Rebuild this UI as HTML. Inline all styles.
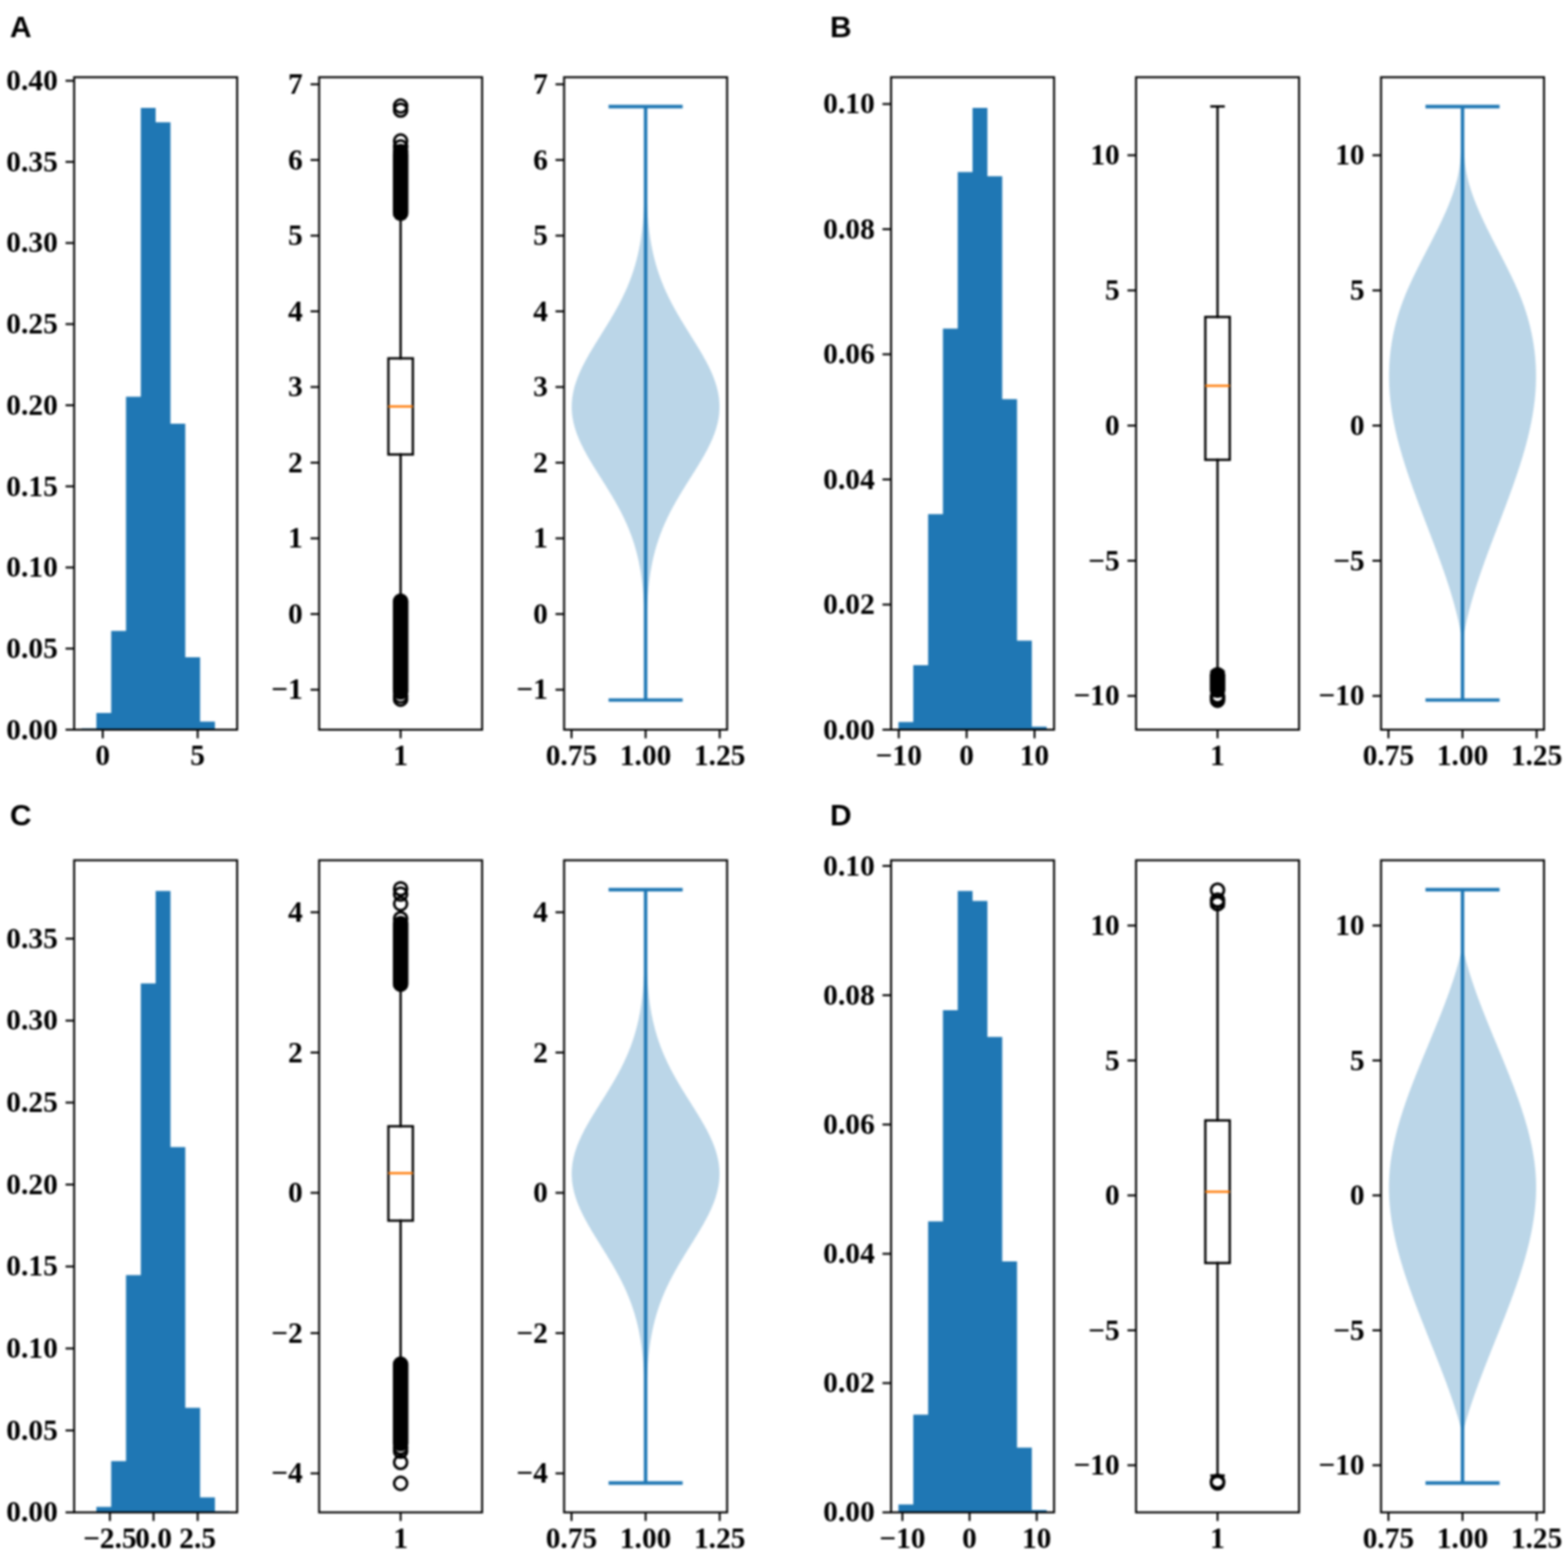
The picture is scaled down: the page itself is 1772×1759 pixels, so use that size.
<!DOCTYPE html>
<html><head><meta charset="utf-8"><title>Distribution plots</title>
<style>
html,body{margin:0;padding:0;background:#fff;}
body{width:1772px;height:1759px;overflow:hidden;}
svg{display:block;filter:blur(0.8px);}

.sp{fill:none;stroke:#000;stroke-width:2.22;stroke-linejoin:miter;stroke-linecap:square}
.tk{stroke:#000;stroke-width:2.22}
.bx{stroke:#000;stroke-width:2.6;stroke-linecap:square}
.bxr{fill:none;stroke:#000;stroke-width:2.6;stroke-linejoin:miter}
.md{stroke:#ff7f0e;stroke-width:2.6}
.fl{fill:none;stroke:#000;stroke-width:3.0}
.vl{stroke:#1f77b4;stroke-width:3.9}

</style></head>
<body>
<svg width="1772" height="1759" viewBox="0 0 1772 1759">
<rect x="0" y="0" width="1772" height="1759" fill="#fff"/>
<path d="M92.17,824.9 L92.17,823.4 L108.92,823.4 L108.92,805.9 L125.66,805.9 L125.66,713.3 L142.41,713.3 L142.41,448.4 L159.15,448.4 L159.15,122.1 L175.9,122.1 L175.9,138.3 L192.65,138.3 L192.65,479 L209.39,479 L209.39,742.9 L226.14,742.9 L226.14,815.7 L242.88,815.7 L242.88,824.4 L259.63,824.4 L259.63,824.9 Z" fill="#1f77b4"/>
<line x1="74.08" y1="824.9" x2="83.8" y2="824.9" class="tk"/>
<text x="65.38" y="835.6" text-anchor="end" font-size="33.3" font-family="'Liberation Serif', 'Times New Roman', serif" font-weight="bold">0.00</text>
<line x1="74.08" y1="733.2" x2="83.8" y2="733.2" class="tk"/>
<text x="65.38" y="743.9" text-anchor="end" font-size="33.3" font-family="'Liberation Serif', 'Times New Roman', serif" font-weight="bold">0.05</text>
<line x1="74.08" y1="641.5" x2="83.8" y2="641.5" class="tk"/>
<text x="65.38" y="652.2" text-anchor="end" font-size="33.3" font-family="'Liberation Serif', 'Times New Roman', serif" font-weight="bold">0.10</text>
<line x1="74.08" y1="549.8" x2="83.8" y2="549.8" class="tk"/>
<text x="65.38" y="560.5" text-anchor="end" font-size="33.3" font-family="'Liberation Serif', 'Times New Roman', serif" font-weight="bold">0.15</text>
<line x1="74.08" y1="458.1" x2="83.8" y2="458.1" class="tk"/>
<text x="65.38" y="468.8" text-anchor="end" font-size="33.3" font-family="'Liberation Serif', 'Times New Roman', serif" font-weight="bold">0.20</text>
<line x1="74.08" y1="366.4" x2="83.8" y2="366.4" class="tk"/>
<text x="65.38" y="377.1" text-anchor="end" font-size="33.3" font-family="'Liberation Serif', 'Times New Roman', serif" font-weight="bold">0.25</text>
<line x1="74.08" y1="274.7" x2="83.8" y2="274.7" class="tk"/>
<text x="65.38" y="285.4" text-anchor="end" font-size="33.3" font-family="'Liberation Serif', 'Times New Roman', serif" font-weight="bold">0.30</text>
<line x1="74.08" y1="183" x2="83.8" y2="183" class="tk"/>
<text x="65.38" y="193.7" text-anchor="end" font-size="33.3" font-family="'Liberation Serif', 'Times New Roman', serif" font-weight="bold">0.35</text>
<line x1="74.08" y1="91.3" x2="83.8" y2="91.3" class="tk"/>
<text x="65.38" y="102" text-anchor="end" font-size="33.3" font-family="'Liberation Serif', 'Times New Roman', serif" font-weight="bold">0.40</text>
<line x1="116.1" y1="824.9" x2="116.1" y2="834.62" class="tk"/>
<text x="116.1" y="864.7" text-anchor="middle" font-size="33.3" font-family="'Liberation Serif', 'Times New Roman', serif" font-weight="bold">0</text>
<line x1="223.4" y1="824.9" x2="223.4" y2="834.62" class="tk"/>
<text x="223.4" y="864.7" text-anchor="middle" font-size="33.3" font-family="'Liberation Serif', 'Times New Roman', serif" font-weight="bold">5</text>
<rect x="83.8" y="87.3" width="184.2" height="737.6" class="sp"/>
<line x1="350.93" y1="779.7" x2="360.65" y2="779.7" class="tk"/>
<text x="342.23" y="790.4" text-anchor="end" font-size="33.3" font-family="'Liberation Serif', 'Times New Roman', serif" font-weight="bold">−1</text>
<line x1="350.93" y1="694.15" x2="360.65" y2="694.15" class="tk"/>
<text x="342.23" y="704.85" text-anchor="end" font-size="33.3" font-family="'Liberation Serif', 'Times New Roman', serif" font-weight="bold">0</text>
<line x1="350.93" y1="608.6" x2="360.65" y2="608.6" class="tk"/>
<text x="342.23" y="619.3" text-anchor="end" font-size="33.3" font-family="'Liberation Serif', 'Times New Roman', serif" font-weight="bold">1</text>
<line x1="350.93" y1="523.05" x2="360.65" y2="523.05" class="tk"/>
<text x="342.23" y="533.75" text-anchor="end" font-size="33.3" font-family="'Liberation Serif', 'Times New Roman', serif" font-weight="bold">2</text>
<line x1="350.93" y1="437.5" x2="360.65" y2="437.5" class="tk"/>
<text x="342.23" y="448.2" text-anchor="end" font-size="33.3" font-family="'Liberation Serif', 'Times New Roman', serif" font-weight="bold">3</text>
<line x1="350.93" y1="351.95" x2="360.65" y2="351.95" class="tk"/>
<text x="342.23" y="362.65" text-anchor="end" font-size="33.3" font-family="'Liberation Serif', 'Times New Roman', serif" font-weight="bold">4</text>
<line x1="350.93" y1="266.4" x2="360.65" y2="266.4" class="tk"/>
<text x="342.23" y="277.1" text-anchor="end" font-size="33.3" font-family="'Liberation Serif', 'Times New Roman', serif" font-weight="bold">5</text>
<line x1="350.93" y1="180.85" x2="360.65" y2="180.85" class="tk"/>
<text x="342.23" y="191.55" text-anchor="end" font-size="33.3" font-family="'Liberation Serif', 'Times New Roman', serif" font-weight="bold">6</text>
<line x1="350.93" y1="95.3" x2="360.65" y2="95.3" class="tk"/>
<text x="342.23" y="106" text-anchor="end" font-size="33.3" font-family="'Liberation Serif', 'Times New Roman', serif" font-weight="bold">7</text>
<line x1="452.75" y1="824.9" x2="452.75" y2="834.62" class="tk"/>
<text x="452.75" y="864.7" text-anchor="middle" font-size="33.3" font-family="'Liberation Serif', 'Times New Roman', serif" font-weight="bold">1</text>
<line x1="452.75" y1="405.1" x2="452.75" y2="243.5" class="bx"/>
<line x1="452.75" y1="513.8" x2="452.75" y2="677.8" class="bx"/>
<line x1="445.84" y1="243.5" x2="459.66" y2="243.5" class="bx"/>
<line x1="445.84" y1="677.8" x2="459.66" y2="677.8" class="bx"/>
<rect x="438.94" y="405.1" width="27.63" height="108.7" class="bxr"/>
<line x1="438.94" y1="459.5" x2="466.56" y2="459.5" class="md"/>
<rect x="443.95" y="165.7" width="17.6" height="84.1" rx="8.8" fill="#000"/>
<rect x="443.95" y="670.8" width="17.6" height="117.7" rx="8.8" fill="#000"/>
<circle cx="452.75" cy="119.9" r="7.3" class="fl"/>
<circle cx="452.75" cy="124.5" r="7.3" class="fl"/>
<circle cx="452.75" cy="159.4" r="7.3" class="fl"/>
<circle cx="452.75" cy="166" r="7.3" class="fl"/>
<circle cx="452.75" cy="171.2" r="7.3" class="fl"/>
<circle cx="452.75" cy="782.3" r="7.3" class="fl"/>
<circle cx="452.75" cy="786.8" r="7.3" class="fl"/>
<circle cx="452.75" cy="790.4" r="7.3" class="fl"/>
<rect x="360.65" y="87.3" width="184.2" height="737.6" class="sp"/>
<line x1="627.78" y1="779.7" x2="637.5" y2="779.7" class="tk"/>
<text x="619.08" y="790.4" text-anchor="end" font-size="33.3" font-family="'Liberation Serif', 'Times New Roman', serif" font-weight="bold">−1</text>
<line x1="627.78" y1="694.15" x2="637.5" y2="694.15" class="tk"/>
<text x="619.08" y="704.85" text-anchor="end" font-size="33.3" font-family="'Liberation Serif', 'Times New Roman', serif" font-weight="bold">0</text>
<line x1="627.78" y1="608.6" x2="637.5" y2="608.6" class="tk"/>
<text x="619.08" y="619.3" text-anchor="end" font-size="33.3" font-family="'Liberation Serif', 'Times New Roman', serif" font-weight="bold">1</text>
<line x1="627.78" y1="523.05" x2="637.5" y2="523.05" class="tk"/>
<text x="619.08" y="533.75" text-anchor="end" font-size="33.3" font-family="'Liberation Serif', 'Times New Roman', serif" font-weight="bold">2</text>
<line x1="627.78" y1="437.5" x2="637.5" y2="437.5" class="tk"/>
<text x="619.08" y="448.2" text-anchor="end" font-size="33.3" font-family="'Liberation Serif', 'Times New Roman', serif" font-weight="bold">3</text>
<line x1="627.78" y1="351.95" x2="637.5" y2="351.95" class="tk"/>
<text x="619.08" y="362.65" text-anchor="end" font-size="33.3" font-family="'Liberation Serif', 'Times New Roman', serif" font-weight="bold">4</text>
<line x1="627.78" y1="266.4" x2="637.5" y2="266.4" class="tk"/>
<text x="619.08" y="277.1" text-anchor="end" font-size="33.3" font-family="'Liberation Serif', 'Times New Roman', serif" font-weight="bold">5</text>
<line x1="627.78" y1="180.85" x2="637.5" y2="180.85" class="tk"/>
<text x="619.08" y="191.55" text-anchor="end" font-size="33.3" font-family="'Liberation Serif', 'Times New Roman', serif" font-weight="bold">6</text>
<line x1="627.78" y1="95.3" x2="637.5" y2="95.3" class="tk"/>
<text x="619.08" y="106" text-anchor="end" font-size="33.3" font-family="'Liberation Serif', 'Times New Roman', serif" font-weight="bold">7</text>
<line x1="645.87" y1="824.9" x2="645.87" y2="834.62" class="tk"/>
<text x="645.87" y="864.7" text-anchor="middle" font-size="33.3" font-family="'Liberation Serif', 'Times New Roman', serif" font-weight="bold">0.75</text>
<line x1="729.6" y1="824.9" x2="729.6" y2="834.62" class="tk"/>
<text x="729.6" y="864.7" text-anchor="middle" font-size="33.3" font-family="'Liberation Serif', 'Times New Roman', serif" font-weight="bold">1.00</text>
<line x1="813.33" y1="824.9" x2="813.33" y2="834.62" class="tk"/>
<text x="813.33" y="864.7" text-anchor="middle" font-size="33.3" font-family="'Liberation Serif', 'Times New Roman', serif" font-weight="bold">1.25</text>
<path d="M729.59,120.50 L729.59,122.18 L729.58,123.86 L729.58,125.54 L729.58,127.23 L729.58,128.91 L729.58,130.59 L729.58,132.27 L729.57,133.95 L729.57,135.63 L729.57,137.31 L729.57,139.00 L729.56,140.68 L729.56,142.36 L729.56,144.04 L729.55,145.72 L729.55,147.40 L729.55,149.08 L729.54,150.77 L729.54,152.45 L729.53,154.13 L729.53,155.81 L729.52,157.49 L729.51,159.17 L729.51,160.85 L729.50,162.54 L729.49,164.22 L729.48,165.90 L729.47,167.58 L729.46,169.26 L729.45,170.94 L729.44,172.63 L729.43,174.31 L729.42,175.99 L729.40,177.67 L729.39,179.35 L729.37,181.03 L729.36,182.71 L729.34,184.40 L729.32,186.08 L729.30,187.76 L729.28,189.44 L729.26,191.12 L729.23,192.80 L729.21,194.48 L729.18,196.17 L729.15,197.85 L729.12,199.53 L729.08,201.21 L729.05,202.89 L729.01,204.57 L728.97,206.25 L728.93,207.94 L728.89,209.62 L728.84,211.30 L728.79,212.98 L728.74,214.66 L728.68,216.34 L728.62,218.02 L728.56,219.71 L728.49,221.39 L728.43,223.07 L728.35,224.75 L728.28,226.43 L728.19,228.11 L728.11,229.79 L728.02,231.48 L727.92,233.16 L727.82,234.84 L727.72,236.52 L727.61,238.20 L727.49,239.88 L727.37,241.56 L727.24,243.25 L727.11,244.93 L726.97,246.61 L726.82,248.29 L726.67,249.97 L726.51,251.65 L726.34,253.33 L726.17,255.02 L725.98,256.70 L725.79,258.38 L725.59,260.06 L725.38,261.74 L725.16,263.42 L724.93,265.11 L724.70,266.79 L724.45,268.47 L724.19,270.15 L723.93,271.83 L723.65,273.51 L723.36,275.19 L723.06,276.88 L722.75,278.56 L722.42,280.24 L722.09,281.92 L721.74,283.60 L721.38,285.28 L721.00,286.96 L720.62,288.65 L720.22,290.33 L719.80,292.01 L719.38,293.69 L718.93,295.37 L718.48,297.05 L718.01,298.73 L717.52,300.42 L717.02,302.10 L716.51,303.78 L715.98,305.46 L715.43,307.14 L714.87,308.82 L714.30,310.50 L713.70,312.19 L713.09,313.87 L712.47,315.55 L711.83,317.23 L711.17,318.91 L710.50,320.59 L709.81,322.27 L709.11,323.96 L708.39,325.64 L707.65,327.32 L706.90,329.00 L706.13,330.68 L705.35,332.36 L704.55,334.04 L703.74,335.73 L702.91,337.41 L702.07,339.09 L701.21,340.77 L700.34,342.45 L699.45,344.13 L698.56,345.81 L697.64,347.50 L696.72,349.18 L695.78,350.86 L694.83,352.54 L693.87,354.22 L692.90,355.90 L691.92,357.58 L690.93,359.27 L689.93,360.95 L688.93,362.63 L687.91,364.31 L686.89,365.99 L685.86,367.67 L684.83,369.36 L683.79,371.04 L682.75,372.72 L681.70,374.40 L680.65,376.08 L679.60,377.76 L678.55,379.44 L677.50,381.13 L676.45,382.81 L675.41,384.49 L674.37,386.17 L673.33,387.85 L672.29,389.53 L671.27,391.21 L670.24,392.90 L669.23,394.58 L668.23,396.26 L667.24,397.94 L666.25,399.62 L665.28,401.30 L664.33,402.98 L663.38,404.67 L662.46,406.35 L661.55,408.03 L660.65,409.71 L659.78,411.39 L658.92,413.07 L658.08,414.75 L657.27,416.44 L656.48,418.12 L655.71,419.80 L654.96,421.48 L654.24,423.16 L653.55,424.84 L652.88,426.52 L652.24,428.21 L651.63,429.89 L651.04,431.57 L650.49,433.25 L649.96,434.93 L649.47,436.61 L649.01,438.29 L648.58,439.98 L648.19,441.66 L647.82,443.34 L647.49,445.02 L647.20,446.70 L646.94,448.38 L646.71,450.06 L646.52,451.75 L646.37,453.43 L646.25,455.11 L646.16,456.79 L646.11,458.47 L646.10,460.15 L646.12,461.84 L646.18,463.52 L646.28,465.20 L646.41,466.88 L646.58,468.56 L646.79,470.24 L647.03,471.92 L647.31,473.61 L647.62,475.29 L647.97,476.97 L648.35,478.65 L648.76,480.33 L649.21,482.01 L649.69,483.69 L650.20,485.38 L650.74,487.06 L651.31,488.74 L651.92,490.42 L652.55,492.10 L653.21,493.78 L653.90,495.46 L654.62,497.15 L655.36,498.83 L656.12,500.51 L656.91,502.19 L657.73,503.87 L658.56,505.55 L659.42,507.23 L660.29,508.92 L661.19,510.60 L662.10,512.28 L663.03,513.96 L663.98,515.64 L664.94,517.32 L665.91,519.00 L666.90,520.69 L667.90,522.37 L668.91,524.05 L669.93,525.73 L670.96,527.41 L672.00,529.09 L673.04,530.77 L674.09,532.46 L675.14,534.14 L676.19,535.82 L677.25,537.50 L678.31,539.18 L679.37,540.86 L680.43,542.54 L681.49,544.23 L682.55,545.91 L683.60,547.59 L684.65,549.27 L685.70,550.95 L686.74,552.63 L687.77,554.32 L688.80,556.00 L689.81,557.68 L690.82,559.36 L691.83,561.04 L692.82,562.72 L693.80,564.40 L694.77,566.09 L695.73,567.77 L696.67,569.45 L697.61,571.13 L698.53,572.81 L699.44,574.49 L700.33,576.17 L701.21,577.86 L702.08,579.54 L702.93,581.22 L703.77,582.90 L704.59,584.58 L705.39,586.26 L706.18,587.94 L706.96,589.63 L707.71,591.31 L708.46,592.99 L709.18,594.67 L709.89,596.35 L710.58,598.03 L711.26,599.71 L711.92,601.40 L712.57,603.08 L713.19,604.76 L713.80,606.44 L714.40,608.12 L714.98,609.80 L715.54,611.48 L716.09,613.17 L716.62,614.85 L717.14,616.53 L717.64,618.21 L718.13,619.89 L718.60,621.57 L719.06,623.25 L719.50,624.94 L719.92,626.62 L720.34,628.30 L720.74,629.98 L721.12,631.66 L721.50,633.34 L721.86,635.02 L722.20,636.71 L722.54,638.39 L722.86,640.07 L723.17,641.75 L723.47,643.43 L723.76,645.11 L724.04,646.79 L724.30,648.48 L724.56,650.16 L724.80,651.84 L725.04,653.52 L725.26,655.20 L725.48,656.88 L725.69,658.57 L725.88,660.25 L726.07,661.93 L726.26,663.61 L726.43,665.29 L726.60,666.97 L726.75,668.65 L726.91,670.34 L727.05,672.02 L727.19,673.70 L727.32,675.38 L727.44,677.06 L727.56,678.74 L727.68,680.42 L727.78,682.11 L727.89,683.79 L727.98,685.47 L728.08,687.15 L728.17,688.83 L728.25,690.51 L728.33,692.19 L728.40,693.88 L728.47,695.56 L728.54,697.24 L728.61,698.92 L728.67,700.60 L728.72,702.28 L728.78,703.96 L728.83,705.65 L728.88,707.33 L728.92,709.01 L728.96,710.69 L729.00,712.37 L729.04,714.05 L729.08,715.73 L729.11,717.42 L729.14,719.10 L729.17,720.78 L729.20,722.46 L729.23,724.14 L729.25,725.82 L729.28,727.50 L729.30,729.19 L729.32,730.87 L729.34,732.55 L729.36,734.23 L729.37,735.91 L729.39,737.59 L729.40,739.27 L729.42,740.96 L729.43,742.64 L729.44,744.32 L729.45,746.00 L729.46,747.68 L729.47,749.36 L729.48,751.05 L729.49,752.73 L729.50,754.41 L729.51,756.09 L729.51,757.77 L729.52,759.45 L729.53,761.13 L729.53,762.82 L729.54,764.50 L729.54,766.18 L729.55,767.86 L729.55,769.54 L729.55,771.22 L729.56,772.90 L729.56,774.59 L729.56,776.27 L729.57,777.95 L729.57,779.63 L729.57,781.31 L729.57,782.99 L729.58,784.67 L729.58,786.36 L729.58,788.04 L729.58,789.72 L729.58,791.40 L729.62,791.40 L729.62,789.72 L729.62,788.04 L729.62,786.36 L729.62,784.67 L729.63,782.99 L729.63,781.31 L729.63,779.63 L729.63,777.95 L729.64,776.27 L729.64,774.59 L729.64,772.90 L729.65,771.22 L729.65,769.54 L729.65,767.86 L729.66,766.18 L729.66,764.50 L729.67,762.82 L729.67,761.13 L729.68,759.45 L729.69,757.77 L729.69,756.09 L729.70,754.41 L729.71,752.73 L729.72,751.05 L729.73,749.36 L729.74,747.68 L729.75,746.00 L729.76,744.32 L729.77,742.64 L729.78,740.96 L729.80,739.27 L729.81,737.59 L729.83,735.91 L729.84,734.23 L729.86,732.55 L729.88,730.87 L729.90,729.19 L729.92,727.50 L729.95,725.82 L729.97,724.14 L730.00,722.46 L730.03,720.78 L730.06,719.10 L730.09,717.42 L730.12,715.73 L730.16,714.05 L730.20,712.37 L730.24,710.69 L730.28,709.01 L730.32,707.33 L730.37,705.65 L730.42,703.96 L730.48,702.28 L730.53,700.60 L730.59,698.92 L730.66,697.24 L730.73,695.56 L730.80,693.88 L730.87,692.19 L730.95,690.51 L731.03,688.83 L731.12,687.15 L731.22,685.47 L731.31,683.79 L731.42,682.11 L731.52,680.42 L731.64,678.74 L731.76,677.06 L731.88,675.38 L732.01,673.70 L732.15,672.02 L732.29,670.34 L732.45,668.65 L732.60,666.97 L732.77,665.29 L732.94,663.61 L733.13,661.93 L733.32,660.25 L733.51,658.57 L733.72,656.88 L733.94,655.20 L734.16,653.52 L734.40,651.84 L734.64,650.16 L734.90,648.48 L735.16,646.79 L735.44,645.11 L735.73,643.43 L736.03,641.75 L736.34,640.07 L736.66,638.39 L737.00,636.71 L737.34,635.02 L737.70,633.34 L738.08,631.66 L738.46,629.98 L738.86,628.30 L739.28,626.62 L739.70,624.94 L740.14,623.25 L740.60,621.57 L741.07,619.89 L741.56,618.21 L742.06,616.53 L742.58,614.85 L743.11,613.17 L743.66,611.48 L744.22,609.80 L744.80,608.12 L745.40,606.44 L746.01,604.76 L746.63,603.08 L747.28,601.40 L747.94,599.71 L748.62,598.03 L749.31,596.35 L750.02,594.67 L750.74,592.99 L751.49,591.31 L752.24,589.63 L753.02,587.94 L753.81,586.26 L754.61,584.58 L755.43,582.90 L756.27,581.22 L757.12,579.54 L757.99,577.86 L758.87,576.17 L759.76,574.49 L760.67,572.81 L761.59,571.13 L762.53,569.45 L763.47,567.77 L764.43,566.09 L765.40,564.40 L766.38,562.72 L767.37,561.04 L768.38,559.36 L769.39,557.68 L770.40,556.00 L771.43,554.32 L772.46,552.63 L773.50,550.95 L774.55,549.27 L775.60,547.59 L776.65,545.91 L777.71,544.23 L778.77,542.54 L779.83,540.86 L780.89,539.18 L781.95,537.50 L783.01,535.82 L784.06,534.14 L785.11,532.46 L786.16,530.77 L787.20,529.09 L788.24,527.41 L789.27,525.73 L790.29,524.05 L791.30,522.37 L792.30,520.69 L793.29,519.00 L794.26,517.32 L795.22,515.64 L796.17,513.96 L797.10,512.28 L798.01,510.60 L798.91,508.92 L799.78,507.23 L800.64,505.55 L801.47,503.87 L802.29,502.19 L803.08,500.51 L803.84,498.83 L804.58,497.15 L805.30,495.46 L805.99,493.78 L806.65,492.10 L807.28,490.42 L807.89,488.74 L808.46,487.06 L809.00,485.38 L809.51,483.69 L809.99,482.01 L810.44,480.33 L810.85,478.65 L811.23,476.97 L811.58,475.29 L811.89,473.61 L812.17,471.92 L812.41,470.24 L812.62,468.56 L812.79,466.88 L812.92,465.20 L813.02,463.52 L813.08,461.84 L813.10,460.15 L813.09,458.47 L813.04,456.79 L812.95,455.11 L812.83,453.43 L812.68,451.75 L812.49,450.06 L812.26,448.38 L812.00,446.70 L811.71,445.02 L811.38,443.34 L811.01,441.66 L810.62,439.98 L810.19,438.29 L809.73,436.61 L809.24,434.93 L808.71,433.25 L808.16,431.57 L807.57,429.89 L806.96,428.21 L806.32,426.52 L805.65,424.84 L804.96,423.16 L804.24,421.48 L803.49,419.80 L802.72,418.12 L801.93,416.44 L801.12,414.75 L800.28,413.07 L799.42,411.39 L798.55,409.71 L797.65,408.03 L796.74,406.35 L795.82,404.67 L794.87,402.98 L793.92,401.30 L792.95,399.62 L791.96,397.94 L790.97,396.26 L789.97,394.58 L788.96,392.90 L787.93,391.21 L786.91,389.53 L785.87,387.85 L784.83,386.17 L783.79,384.49 L782.75,382.81 L781.70,381.13 L780.65,379.44 L779.60,377.76 L778.55,376.08 L777.50,374.40 L776.45,372.72 L775.41,371.04 L774.37,369.36 L773.34,367.67 L772.31,365.99 L771.29,364.31 L770.27,362.63 L769.27,360.95 L768.27,359.27 L767.28,357.58 L766.30,355.90 L765.33,354.22 L764.37,352.54 L763.42,350.86 L762.48,349.18 L761.56,347.50 L760.64,345.81 L759.75,344.13 L758.86,342.45 L757.99,340.77 L757.13,339.09 L756.29,337.41 L755.46,335.73 L754.65,334.04 L753.85,332.36 L753.07,330.68 L752.30,329.00 L751.55,327.32 L750.81,325.64 L750.09,323.96 L749.39,322.27 L748.70,320.59 L748.03,318.91 L747.37,317.23 L746.73,315.55 L746.11,313.87 L745.50,312.19 L744.90,310.50 L744.33,308.82 L743.77,307.14 L743.22,305.46 L742.69,303.78 L742.18,302.10 L741.68,300.42 L741.19,298.73 L740.72,297.05 L740.27,295.37 L739.82,293.69 L739.40,292.01 L738.98,290.33 L738.58,288.65 L738.20,286.96 L737.82,285.28 L737.46,283.60 L737.11,281.92 L736.78,280.24 L736.45,278.56 L736.14,276.88 L735.84,275.19 L735.55,273.51 L735.27,271.83 L735.01,270.15 L734.75,268.47 L734.50,266.79 L734.27,265.11 L734.04,263.42 L733.82,261.74 L733.61,260.06 L733.41,258.38 L733.22,256.70 L733.03,255.02 L732.86,253.33 L732.69,251.65 L732.53,249.97 L732.38,248.29 L732.23,246.61 L732.09,244.93 L731.96,243.25 L731.83,241.56 L731.71,239.88 L731.59,238.20 L731.48,236.52 L731.38,234.84 L731.28,233.16 L731.18,231.48 L731.09,229.79 L731.01,228.11 L730.92,226.43 L730.85,224.75 L730.77,223.07 L730.71,221.39 L730.64,219.71 L730.58,218.02 L730.52,216.34 L730.46,214.66 L730.41,212.98 L730.36,211.30 L730.31,209.62 L730.27,207.94 L730.23,206.25 L730.19,204.57 L730.15,202.89 L730.12,201.21 L730.08,199.53 L730.05,197.85 L730.02,196.17 L729.99,194.48 L729.97,192.80 L729.94,191.12 L729.92,189.44 L729.90,187.76 L729.88,186.08 L729.86,184.40 L729.84,182.71 L729.83,181.03 L729.81,179.35 L729.80,177.67 L729.78,175.99 L729.77,174.31 L729.76,172.63 L729.75,170.94 L729.74,169.26 L729.73,167.58 L729.72,165.90 L729.71,164.22 L729.70,162.54 L729.69,160.85 L729.69,159.17 L729.68,157.49 L729.67,155.81 L729.67,154.13 L729.66,152.45 L729.66,150.77 L729.65,149.08 L729.65,147.40 L729.65,145.72 L729.64,144.04 L729.64,142.36 L729.64,140.68 L729.63,139.00 L729.63,137.31 L729.63,135.63 L729.63,133.95 L729.62,132.27 L729.62,130.59 L729.62,128.91 L729.62,127.23 L729.62,125.54 L729.62,123.86 L729.61,122.18 L729.61,120.50 Z" fill="#1f77b4" fill-opacity="0.3"/>
<line x1="729.6" y1="120.5" x2="729.6" y2="791.4" class="vl"/>
<line x1="687.74" y1="120.5" x2="771.46" y2="120.5" class="vl"/>
<line x1="687.74" y1="791.4" x2="771.46" y2="791.4" class="vl"/>
<rect x="637.5" y="87.3" width="184.2" height="737.6" class="sp"/>
<path d="M1015.37,824.9 L1015.37,816.25 L1032.12,816.25 L1032.12,752 L1048.86,752 L1048.86,581.25 L1065.61,581.25 L1065.61,371.6 L1082.35,371.6 L1082.35,194.5 L1099.1,194.5 L1099.1,122.1 L1115.85,122.1 L1115.85,199.2 L1132.59,199.2 L1132.59,451.3 L1149.34,451.3 L1149.34,724.25 L1166.08,724.25 L1166.08,821.6 L1182.83,821.6 L1182.83,824.9 Z" fill="#1f77b4"/>
<line x1="997.28" y1="824.9" x2="1007" y2="824.9" class="tk"/>
<text x="988.58" y="835.6" text-anchor="end" font-size="33.3" font-family="'Liberation Serif', 'Times New Roman', serif" font-weight="bold">0.00</text>
<line x1="997.28" y1="683.44" x2="1007" y2="683.44" class="tk"/>
<text x="988.58" y="694.14" text-anchor="end" font-size="33.3" font-family="'Liberation Serif', 'Times New Roman', serif" font-weight="bold">0.02</text>
<line x1="997.28" y1="541.98" x2="1007" y2="541.98" class="tk"/>
<text x="988.58" y="552.68" text-anchor="end" font-size="33.3" font-family="'Liberation Serif', 'Times New Roman', serif" font-weight="bold">0.04</text>
<line x1="997.28" y1="400.52" x2="1007" y2="400.52" class="tk"/>
<text x="988.58" y="411.22" text-anchor="end" font-size="33.3" font-family="'Liberation Serif', 'Times New Roman', serif" font-weight="bold">0.06</text>
<line x1="997.28" y1="259.06" x2="1007" y2="259.06" class="tk"/>
<text x="988.58" y="269.76" text-anchor="end" font-size="33.3" font-family="'Liberation Serif', 'Times New Roman', serif" font-weight="bold">0.08</text>
<line x1="997.28" y1="117.6" x2="1007" y2="117.6" class="tk"/>
<text x="988.58" y="128.3" text-anchor="end" font-size="33.3" font-family="'Liberation Serif', 'Times New Roman', serif" font-weight="bold">0.10</text>
<line x1="1015.7" y1="824.9" x2="1015.7" y2="834.62" class="tk"/>
<text x="1015.7" y="864.7" text-anchor="middle" font-size="33.3" font-family="'Liberation Serif', 'Times New Roman', serif" font-weight="bold">−10</text>
<line x1="1092.4" y1="824.9" x2="1092.4" y2="834.62" class="tk"/>
<text x="1092.4" y="864.7" text-anchor="middle" font-size="33.3" font-family="'Liberation Serif', 'Times New Roman', serif" font-weight="bold">0</text>
<line x1="1169.1" y1="824.9" x2="1169.1" y2="834.62" class="tk"/>
<text x="1169.1" y="864.7" text-anchor="middle" font-size="33.3" font-family="'Liberation Serif', 'Times New Roman', serif" font-weight="bold">10</text>
<rect x="1007" y="87.3" width="184.2" height="737.6" class="sp"/>
<line x1="1274.13" y1="786.7" x2="1283.85" y2="786.7" class="tk"/>
<text x="1265.43" y="797.4" text-anchor="end" font-size="33.3" font-family="'Liberation Serif', 'Times New Roman', serif" font-weight="bold">−10</text>
<line x1="1274.13" y1="633.9" x2="1283.85" y2="633.9" class="tk"/>
<text x="1265.43" y="644.6" text-anchor="end" font-size="33.3" font-family="'Liberation Serif', 'Times New Roman', serif" font-weight="bold">−5</text>
<line x1="1274.13" y1="481.1" x2="1283.85" y2="481.1" class="tk"/>
<text x="1265.43" y="491.8" text-anchor="end" font-size="33.3" font-family="'Liberation Serif', 'Times New Roman', serif" font-weight="bold">0</text>
<line x1="1274.13" y1="328.3" x2="1283.85" y2="328.3" class="tk"/>
<text x="1265.43" y="339" text-anchor="end" font-size="33.3" font-family="'Liberation Serif', 'Times New Roman', serif" font-weight="bold">5</text>
<line x1="1274.13" y1="175.5" x2="1283.85" y2="175.5" class="tk"/>
<text x="1265.43" y="186.2" text-anchor="end" font-size="33.3" font-family="'Liberation Serif', 'Times New Roman', serif" font-weight="bold">10</text>
<line x1="1375.95" y1="824.9" x2="1375.95" y2="834.62" class="tk"/>
<text x="1375.95" y="864.7" text-anchor="middle" font-size="33.3" font-family="'Liberation Serif', 'Times New Roman', serif" font-weight="bold">1</text>
<line x1="1375.95" y1="358.3" x2="1375.95" y2="120.3" class="bx"/>
<line x1="1375.95" y1="519.8" x2="1375.95" y2="759" class="bx"/>
<line x1="1369.04" y1="120.3" x2="1382.86" y2="120.3" class="bx"/>
<line x1="1369.04" y1="759" x2="1382.86" y2="759" class="bx"/>
<rect x="1362.13" y="358.3" width="27.63" height="161.5" class="bxr"/>
<line x1="1362.13" y1="436.1" x2="1389.76" y2="436.1" class="md"/>
<rect x="1367.15" y="753.9" width="17.6" height="35.2" rx="8.8" fill="#000"/>
<circle cx="1375.95" cy="786.7" r="7.3" class="fl"/>
<circle cx="1375.95" cy="789.1" r="7.3" class="fl"/>
<circle cx="1375.95" cy="791.6" r="7.3" class="fl"/>
<rect x="1283.85" y="87.3" width="184.2" height="737.6" class="sp"/>
<line x1="1550.98" y1="786.7" x2="1560.7" y2="786.7" class="tk"/>
<text x="1542.28" y="797.4" text-anchor="end" font-size="33.3" font-family="'Liberation Serif', 'Times New Roman', serif" font-weight="bold">−10</text>
<line x1="1550.98" y1="633.9" x2="1560.7" y2="633.9" class="tk"/>
<text x="1542.28" y="644.6" text-anchor="end" font-size="33.3" font-family="'Liberation Serif', 'Times New Roman', serif" font-weight="bold">−5</text>
<line x1="1550.98" y1="481.1" x2="1560.7" y2="481.1" class="tk"/>
<text x="1542.28" y="491.8" text-anchor="end" font-size="33.3" font-family="'Liberation Serif', 'Times New Roman', serif" font-weight="bold">0</text>
<line x1="1550.98" y1="328.3" x2="1560.7" y2="328.3" class="tk"/>
<text x="1542.28" y="339" text-anchor="end" font-size="33.3" font-family="'Liberation Serif', 'Times New Roman', serif" font-weight="bold">5</text>
<line x1="1550.98" y1="175.5" x2="1560.7" y2="175.5" class="tk"/>
<text x="1542.28" y="186.2" text-anchor="end" font-size="33.3" font-family="'Liberation Serif', 'Times New Roman', serif" font-weight="bold">10</text>
<line x1="1569.07" y1="824.9" x2="1569.07" y2="834.62" class="tk"/>
<text x="1569.07" y="864.7" text-anchor="middle" font-size="33.3" font-family="'Liberation Serif', 'Times New Roman', serif" font-weight="bold">0.75</text>
<line x1="1652.8" y1="824.9" x2="1652.8" y2="834.62" class="tk"/>
<text x="1652.8" y="864.7" text-anchor="middle" font-size="33.3" font-family="'Liberation Serif', 'Times New Roman', serif" font-weight="bold">1.00</text>
<line x1="1736.53" y1="824.9" x2="1736.53" y2="834.62" class="tk"/>
<text x="1736.53" y="864.7" text-anchor="middle" font-size="33.3" font-family="'Liberation Serif', 'Times New Roman', serif" font-weight="bold">1.25</text>
<path d="M1652.53,120.50 L1652.51,122.18 L1652.49,123.86 L1652.47,125.54 L1652.45,127.23 L1652.43,128.91 L1652.41,130.59 L1652.38,132.27 L1652.35,133.95 L1652.33,135.63 L1652.30,137.31 L1652.26,139.00 L1652.23,140.68 L1652.19,142.36 L1652.16,144.04 L1652.12,145.72 L1652.07,147.40 L1652.03,149.08 L1651.98,150.77 L1651.92,152.45 L1651.87,154.13 L1651.81,155.81 L1651.75,157.49 L1651.68,159.17 L1651.61,160.85 L1651.53,162.54 L1651.45,164.22 L1651.37,165.90 L1651.27,167.58 L1651.18,169.26 L1651.07,170.94 L1650.96,172.63 L1650.85,174.31 L1650.72,175.99 L1650.59,177.67 L1650.45,179.35 L1650.30,181.03 L1650.14,182.71 L1649.97,184.40 L1649.78,186.08 L1649.57,187.76 L1649.33,189.44 L1649.07,191.12 L1648.79,192.80 L1648.49,194.48 L1648.16,196.17 L1647.82,197.85 L1647.45,199.53 L1647.07,201.21 L1646.66,202.89 L1646.24,204.57 L1645.80,206.25 L1645.34,207.94 L1644.86,209.62 L1644.36,211.30 L1643.85,212.98 L1643.31,214.66 L1642.77,216.34 L1642.21,218.02 L1641.63,219.71 L1641.03,221.39 L1640.43,223.07 L1639.80,224.75 L1639.17,226.43 L1638.52,228.11 L1637.85,229.79 L1637.18,231.48 L1636.49,233.16 L1635.79,234.84 L1635.08,236.52 L1634.35,238.20 L1633.62,239.88 L1632.88,241.56 L1632.12,243.25 L1631.36,244.93 L1630.59,246.61 L1629.81,248.29 L1629.02,249.97 L1628.22,251.65 L1627.42,253.33 L1626.61,255.02 L1625.79,256.70 L1624.96,258.38 L1624.13,260.06 L1623.30,261.74 L1622.45,263.42 L1621.61,265.11 L1620.76,266.79 L1619.91,268.47 L1619.05,270.15 L1618.19,271.83 L1617.33,273.51 L1616.46,275.19 L1615.59,276.88 L1614.72,278.56 L1613.86,280.24 L1612.99,281.92 L1612.11,283.60 L1611.24,285.28 L1610.37,286.96 L1609.51,288.65 L1608.64,290.33 L1607.77,292.01 L1606.91,293.69 L1606.05,295.37 L1605.19,297.05 L1604.34,298.73 L1603.49,300.42 L1602.64,302.10 L1601.80,303.78 L1600.96,305.46 L1600.13,307.14 L1599.31,308.82 L1598.49,310.50 L1597.67,312.19 L1596.87,313.87 L1596.07,315.55 L1595.28,317.23 L1594.50,318.91 L1593.72,320.59 L1592.96,322.27 L1592.20,323.96 L1591.46,325.64 L1590.72,327.32 L1590.00,329.00 L1589.28,330.68 L1588.58,332.36 L1587.89,334.04 L1587.21,335.73 L1586.55,337.41 L1585.90,339.09 L1585.26,340.77 L1584.63,342.45 L1584.02,344.13 L1583.42,345.81 L1582.84,347.50 L1582.27,349.18 L1581.71,350.86 L1581.16,352.54 L1580.63,354.22 L1580.11,355.90 L1579.61,357.58 L1579.11,359.27 L1578.63,360.95 L1578.17,362.63 L1577.71,364.31 L1577.27,365.99 L1576.84,367.67 L1576.43,369.36 L1576.03,371.04 L1575.64,372.72 L1575.26,374.40 L1574.90,376.08 L1574.55,377.76 L1574.21,379.44 L1573.89,381.13 L1573.57,382.81 L1573.27,384.49 L1572.98,386.17 L1572.71,387.85 L1572.45,389.53 L1572.20,391.21 L1571.96,392.90 L1571.73,394.58 L1571.52,396.26 L1571.32,397.94 L1571.13,399.62 L1570.95,401.30 L1570.79,402.98 L1570.64,404.67 L1570.50,406.35 L1570.37,408.03 L1570.26,409.71 L1570.15,411.39 L1570.06,413.07 L1569.98,414.75 L1569.91,416.44 L1569.86,418.12 L1569.81,419.80 L1569.78,421.48 L1569.76,423.16 L1569.75,424.84 L1569.76,426.52 L1569.77,428.21 L1569.80,429.89 L1569.84,431.57 L1569.89,433.25 L1569.95,434.93 L1570.02,436.61 L1570.10,438.29 L1570.20,439.98 L1570.31,441.66 L1570.42,443.34 L1570.55,445.02 L1570.70,446.70 L1570.85,448.38 L1571.01,450.06 L1571.19,451.75 L1571.37,453.43 L1571.57,455.11 L1571.78,456.79 L1571.99,458.47 L1572.22,460.15 L1572.46,461.84 L1572.71,463.52 L1572.97,465.20 L1573.23,466.88 L1573.51,468.56 L1573.80,470.24 L1574.10,471.92 L1574.40,473.61 L1574.72,475.29 L1575.04,476.97 L1575.38,478.65 L1575.72,480.33 L1576.07,482.01 L1576.43,483.69 L1576.80,485.38 L1577.18,487.06 L1577.56,488.74 L1577.95,490.42 L1578.36,492.10 L1578.76,493.78 L1579.18,495.46 L1579.60,497.15 L1580.04,498.83 L1580.47,500.51 L1580.92,502.19 L1581.37,503.87 L1581.83,505.55 L1582.30,507.23 L1582.77,508.92 L1583.25,510.60 L1583.74,512.28 L1584.23,513.96 L1584.73,515.64 L1585.24,517.32 L1585.75,519.00 L1586.26,520.69 L1586.79,522.37 L1587.31,524.05 L1587.85,525.73 L1588.39,527.41 L1588.93,529.09 L1589.48,530.77 L1590.03,532.46 L1590.59,534.14 L1591.15,535.82 L1591.72,537.50 L1592.29,539.18 L1592.87,540.86 L1593.45,542.54 L1594.03,544.23 L1594.62,545.91 L1595.21,547.59 L1595.80,549.27 L1596.40,550.95 L1597.00,552.63 L1597.61,554.32 L1598.22,556.00 L1598.83,557.68 L1599.44,559.36 L1600.06,561.04 L1600.67,562.72 L1601.30,564.40 L1601.92,566.09 L1602.55,567.77 L1603.17,569.45 L1603.80,571.13 L1604.43,572.81 L1605.07,574.49 L1605.70,576.17 L1606.34,577.86 L1606.97,579.54 L1607.61,581.22 L1608.25,582.90 L1608.89,584.58 L1609.53,586.26 L1610.18,587.94 L1610.82,589.63 L1611.46,591.31 L1612.10,592.99 L1612.75,594.67 L1613.39,596.35 L1614.03,598.03 L1614.67,599.71 L1615.31,601.40 L1615.96,603.08 L1616.60,604.76 L1617.24,606.44 L1617.88,608.12 L1618.51,609.80 L1619.15,611.48 L1619.79,613.17 L1620.42,614.85 L1621.05,616.53 L1621.68,618.21 L1622.31,619.89 L1622.94,621.57 L1623.56,623.25 L1624.19,624.94 L1624.81,626.62 L1625.42,628.30 L1626.04,629.98 L1626.65,631.66 L1627.26,633.34 L1627.87,635.02 L1628.47,636.71 L1629.07,638.39 L1629.67,640.07 L1630.26,641.75 L1630.85,643.43 L1631.44,645.11 L1632.02,646.79 L1632.60,648.48 L1633.17,650.16 L1633.74,651.84 L1634.31,653.52 L1634.87,655.20 L1635.42,656.88 L1635.98,658.57 L1636.52,660.25 L1637.06,661.93 L1637.60,663.61 L1638.13,665.29 L1638.66,666.97 L1639.18,668.65 L1639.69,670.34 L1640.20,672.02 L1640.70,673.70 L1641.20,675.38 L1641.69,677.06 L1642.17,678.74 L1642.65,680.42 L1643.12,682.11 L1643.58,683.79 L1644.04,685.47 L1644.49,687.15 L1644.93,688.83 L1645.37,690.51 L1645.80,692.19 L1646.22,693.88 L1646.63,695.56 L1647.04,697.24 L1647.44,698.92 L1647.83,700.60 L1648.21,702.28 L1648.58,703.96 L1648.95,705.65 L1649.30,707.33 L1649.65,709.01 L1649.99,710.69 L1650.32,712.37 L1650.64,714.05 L1650.95,715.73 L1651.26,717.42 L1651.55,719.10 L1651.83,720.78 L1652.11,722.46 L1652.37,724.14 L1652.55,725.82 L1652.66,727.50 L1652.72,729.19 L1652.75,730.87 L1652.77,732.55 L1652.78,734.23 L1652.79,735.91 L1652.79,737.59 L1652.80,739.27 L1652.80,740.96 L1652.80,742.64 L1652.80,744.32 L1652.80,746.00 L1652.80,747.68 L1652.80,749.36 L1652.80,751.05 L1652.80,752.73 L1652.80,754.41 L1652.80,756.09 L1652.80,757.77 L1652.80,759.45 L1652.80,761.13 L1652.80,762.82 L1652.80,764.50 L1652.80,766.18 L1652.80,767.86 L1652.80,769.54 L1652.80,771.22 L1652.80,772.90 L1652.80,774.59 L1652.80,776.27 L1652.80,777.95 L1652.80,779.63 L1652.80,781.31 L1652.80,782.99 L1652.80,784.67 L1652.80,786.36 L1652.80,788.04 L1652.80,789.72 L1652.80,791.40 L1652.80,791.40 L1652.80,789.72 L1652.80,788.04 L1652.80,786.36 L1652.80,784.67 L1652.80,782.99 L1652.80,781.31 L1652.80,779.63 L1652.80,777.95 L1652.80,776.27 L1652.80,774.59 L1652.80,772.90 L1652.80,771.22 L1652.80,769.54 L1652.80,767.86 L1652.80,766.18 L1652.80,764.50 L1652.80,762.82 L1652.80,761.13 L1652.80,759.45 L1652.80,757.77 L1652.80,756.09 L1652.80,754.41 L1652.80,752.73 L1652.80,751.05 L1652.80,749.36 L1652.80,747.68 L1652.80,746.00 L1652.80,744.32 L1652.80,742.64 L1652.80,740.96 L1652.80,739.27 L1652.81,737.59 L1652.81,735.91 L1652.82,734.23 L1652.83,732.55 L1652.85,730.87 L1652.88,729.19 L1652.94,727.50 L1653.05,725.82 L1653.23,724.14 L1653.49,722.46 L1653.77,720.78 L1654.05,719.10 L1654.34,717.42 L1654.65,715.73 L1654.96,714.05 L1655.28,712.37 L1655.61,710.69 L1655.95,709.01 L1656.30,707.33 L1656.65,705.65 L1657.02,703.96 L1657.39,702.28 L1657.77,700.60 L1658.16,698.92 L1658.56,697.24 L1658.97,695.56 L1659.38,693.88 L1659.80,692.19 L1660.23,690.51 L1660.67,688.83 L1661.11,687.15 L1661.56,685.47 L1662.02,683.79 L1662.48,682.11 L1662.95,680.42 L1663.43,678.74 L1663.91,677.06 L1664.40,675.38 L1664.90,673.70 L1665.40,672.02 L1665.91,670.34 L1666.42,668.65 L1666.94,666.97 L1667.47,665.29 L1668.00,663.61 L1668.54,661.93 L1669.08,660.25 L1669.62,658.57 L1670.18,656.88 L1670.73,655.20 L1671.29,653.52 L1671.86,651.84 L1672.43,650.16 L1673.00,648.48 L1673.58,646.79 L1674.16,645.11 L1674.75,643.43 L1675.34,641.75 L1675.93,640.07 L1676.53,638.39 L1677.13,636.71 L1677.73,635.02 L1678.34,633.34 L1678.95,631.66 L1679.56,629.98 L1680.18,628.30 L1680.79,626.62 L1681.41,624.94 L1682.04,623.25 L1682.66,621.57 L1683.29,619.89 L1683.92,618.21 L1684.55,616.53 L1685.18,614.85 L1685.81,613.17 L1686.45,611.48 L1687.09,609.80 L1687.72,608.12 L1688.36,606.44 L1689.00,604.76 L1689.64,603.08 L1690.29,601.40 L1690.93,599.71 L1691.57,598.03 L1692.21,596.35 L1692.85,594.67 L1693.50,592.99 L1694.14,591.31 L1694.78,589.63 L1695.42,587.94 L1696.07,586.26 L1696.71,584.58 L1697.35,582.90 L1697.99,581.22 L1698.63,579.54 L1699.26,577.86 L1699.90,576.17 L1700.53,574.49 L1701.17,572.81 L1701.80,571.13 L1702.43,569.45 L1703.05,567.77 L1703.68,566.09 L1704.30,564.40 L1704.93,562.72 L1705.54,561.04 L1706.16,559.36 L1706.77,557.68 L1707.38,556.00 L1707.99,554.32 L1708.60,552.63 L1709.20,550.95 L1709.80,549.27 L1710.39,547.59 L1710.98,545.91 L1711.57,544.23 L1712.15,542.54 L1712.73,540.86 L1713.31,539.18 L1713.88,537.50 L1714.45,535.82 L1715.01,534.14 L1715.57,532.46 L1716.12,530.77 L1716.67,529.09 L1717.21,527.41 L1717.75,525.73 L1718.29,524.05 L1718.81,522.37 L1719.34,520.69 L1719.85,519.00 L1720.36,517.32 L1720.87,515.64 L1721.37,513.96 L1721.86,512.28 L1722.35,510.60 L1722.83,508.92 L1723.30,507.23 L1723.77,505.55 L1724.23,503.87 L1724.68,502.19 L1725.13,500.51 L1725.56,498.83 L1726.00,497.15 L1726.42,495.46 L1726.84,493.78 L1727.24,492.10 L1727.65,490.42 L1728.04,488.74 L1728.42,487.06 L1728.80,485.38 L1729.17,483.69 L1729.53,482.01 L1729.88,480.33 L1730.22,478.65 L1730.56,476.97 L1730.88,475.29 L1731.20,473.61 L1731.50,471.92 L1731.80,470.24 L1732.09,468.56 L1732.37,466.88 L1732.63,465.20 L1732.89,463.52 L1733.14,461.84 L1733.38,460.15 L1733.61,458.47 L1733.82,456.79 L1734.03,455.11 L1734.23,453.43 L1734.41,451.75 L1734.59,450.06 L1734.75,448.38 L1734.90,446.70 L1735.05,445.02 L1735.18,443.34 L1735.29,441.66 L1735.40,439.98 L1735.50,438.29 L1735.58,436.61 L1735.65,434.93 L1735.71,433.25 L1735.76,431.57 L1735.80,429.89 L1735.83,428.21 L1735.84,426.52 L1735.85,424.84 L1735.84,423.16 L1735.82,421.48 L1735.79,419.80 L1735.74,418.12 L1735.69,416.44 L1735.62,414.75 L1735.54,413.07 L1735.45,411.39 L1735.34,409.71 L1735.23,408.03 L1735.10,406.35 L1734.96,404.67 L1734.81,402.98 L1734.65,401.30 L1734.47,399.62 L1734.28,397.94 L1734.08,396.26 L1733.87,394.58 L1733.64,392.90 L1733.40,391.21 L1733.15,389.53 L1732.89,387.85 L1732.62,386.17 L1732.33,384.49 L1732.03,382.81 L1731.71,381.13 L1731.39,379.44 L1731.05,377.76 L1730.70,376.08 L1730.34,374.40 L1729.96,372.72 L1729.57,371.04 L1729.17,369.36 L1728.76,367.67 L1728.33,365.99 L1727.89,364.31 L1727.43,362.63 L1726.97,360.95 L1726.49,359.27 L1725.99,357.58 L1725.49,355.90 L1724.97,354.22 L1724.44,352.54 L1723.89,350.86 L1723.33,349.18 L1722.76,347.50 L1722.18,345.81 L1721.58,344.13 L1720.97,342.45 L1720.34,340.77 L1719.70,339.09 L1719.05,337.41 L1718.39,335.73 L1717.71,334.04 L1717.02,332.36 L1716.32,330.68 L1715.60,329.00 L1714.88,327.32 L1714.14,325.64 L1713.40,323.96 L1712.64,322.27 L1711.88,320.59 L1711.10,318.91 L1710.32,317.23 L1709.53,315.55 L1708.73,313.87 L1707.93,312.19 L1707.11,310.50 L1706.29,308.82 L1705.47,307.14 L1704.64,305.46 L1703.80,303.78 L1702.96,302.10 L1702.11,300.42 L1701.26,298.73 L1700.41,297.05 L1699.55,295.37 L1698.69,293.69 L1697.83,292.01 L1696.96,290.33 L1696.09,288.65 L1695.23,286.96 L1694.36,285.28 L1693.49,283.60 L1692.61,281.92 L1691.74,280.24 L1690.88,278.56 L1690.01,276.88 L1689.14,275.19 L1688.27,273.51 L1687.41,271.83 L1686.55,270.15 L1685.69,268.47 L1684.84,266.79 L1683.99,265.11 L1683.15,263.42 L1682.30,261.74 L1681.47,260.06 L1680.64,258.38 L1679.81,256.70 L1678.99,255.02 L1678.18,253.33 L1677.38,251.65 L1676.58,249.97 L1675.79,248.29 L1675.01,246.61 L1674.24,244.93 L1673.48,243.25 L1672.72,241.56 L1671.98,239.88 L1671.25,238.20 L1670.52,236.52 L1669.81,234.84 L1669.11,233.16 L1668.42,231.48 L1667.75,229.79 L1667.08,228.11 L1666.43,226.43 L1665.80,224.75 L1665.17,223.07 L1664.57,221.39 L1663.97,219.71 L1663.39,218.02 L1662.83,216.34 L1662.29,214.66 L1661.75,212.98 L1661.24,211.30 L1660.74,209.62 L1660.26,207.94 L1659.80,206.25 L1659.36,204.57 L1658.94,202.89 L1658.53,201.21 L1658.15,199.53 L1657.78,197.85 L1657.44,196.17 L1657.11,194.48 L1656.81,192.80 L1656.53,191.12 L1656.27,189.44 L1656.03,187.76 L1655.82,186.08 L1655.63,184.40 L1655.46,182.71 L1655.30,181.03 L1655.15,179.35 L1655.01,177.67 L1654.88,175.99 L1654.75,174.31 L1654.64,172.63 L1654.53,170.94 L1654.42,169.26 L1654.33,167.58 L1654.23,165.90 L1654.15,164.22 L1654.07,162.54 L1653.99,160.85 L1653.92,159.17 L1653.85,157.49 L1653.79,155.81 L1653.73,154.13 L1653.68,152.45 L1653.62,150.77 L1653.57,149.08 L1653.53,147.40 L1653.48,145.72 L1653.44,144.04 L1653.41,142.36 L1653.37,140.68 L1653.34,139.00 L1653.30,137.31 L1653.27,135.63 L1653.25,133.95 L1653.22,132.27 L1653.19,130.59 L1653.17,128.91 L1653.15,127.23 L1653.13,125.54 L1653.11,123.86 L1653.09,122.18 L1653.07,120.50 Z" fill="#1f77b4" fill-opacity="0.3"/>
<line x1="1652.8" y1="120.5" x2="1652.8" y2="791.4" class="vl"/>
<line x1="1610.94" y1="120.5" x2="1694.66" y2="120.5" class="vl"/>
<line x1="1610.94" y1="791.4" x2="1694.66" y2="791.4" class="vl"/>
<rect x="1560.7" y="87.3" width="184.2" height="737.6" class="sp"/>
<path d="M92.17,1709.7 L92.17,1709.5 L108.92,1709.5 L108.92,1703.6 L125.66,1703.6 L125.66,1651.8 L142.41,1651.8 L142.41,1441.6 L159.15,1441.6 L159.15,1111.8 L175.9,1111.8 L175.9,1007.2 L192.65,1007.2 L192.65,1296.8 L209.39,1296.8 L209.39,1591.6 L226.14,1591.6 L226.14,1692.7 L242.88,1692.7 L242.88,1708.6 L259.63,1708.6 L259.63,1709.7 Z" fill="#1f77b4"/>
<line x1="74.08" y1="1709.7" x2="83.8" y2="1709.7" class="tk"/>
<text x="65.38" y="1720.4" text-anchor="end" font-size="33.3" font-family="'Liberation Serif', 'Times New Roman', serif" font-weight="bold">0.00</text>
<line x1="74.08" y1="1617.05" x2="83.8" y2="1617.05" class="tk"/>
<text x="65.38" y="1627.75" text-anchor="end" font-size="33.3" font-family="'Liberation Serif', 'Times New Roman', serif" font-weight="bold">0.05</text>
<line x1="74.08" y1="1524.39" x2="83.8" y2="1524.39" class="tk"/>
<text x="65.38" y="1535.09" text-anchor="end" font-size="33.3" font-family="'Liberation Serif', 'Times New Roman', serif" font-weight="bold">0.10</text>
<line x1="74.08" y1="1431.74" x2="83.8" y2="1431.74" class="tk"/>
<text x="65.38" y="1442.44" text-anchor="end" font-size="33.3" font-family="'Liberation Serif', 'Times New Roman', serif" font-weight="bold">0.15</text>
<line x1="74.08" y1="1339.08" x2="83.8" y2="1339.08" class="tk"/>
<text x="65.38" y="1349.78" text-anchor="end" font-size="33.3" font-family="'Liberation Serif', 'Times New Roman', serif" font-weight="bold">0.20</text>
<line x1="74.08" y1="1246.43" x2="83.8" y2="1246.43" class="tk"/>
<text x="65.38" y="1257.13" text-anchor="end" font-size="33.3" font-family="'Liberation Serif', 'Times New Roman', serif" font-weight="bold">0.25</text>
<line x1="74.08" y1="1153.77" x2="83.8" y2="1153.77" class="tk"/>
<text x="65.38" y="1164.47" text-anchor="end" font-size="33.3" font-family="'Liberation Serif', 'Times New Roman', serif" font-weight="bold">0.30</text>
<line x1="74.08" y1="1061.12" x2="83.8" y2="1061.12" class="tk"/>
<text x="65.38" y="1071.82" text-anchor="end" font-size="33.3" font-family="'Liberation Serif', 'Times New Roman', serif" font-weight="bold">0.35</text>
<line x1="124.2" y1="1709.7" x2="124.2" y2="1719.42" class="tk"/>
<text x="124.2" y="1749.5" text-anchor="middle" font-size="33.3" font-family="'Liberation Serif', 'Times New Roman', serif" font-weight="bold">−2.5</text>
<line x1="173.5" y1="1709.7" x2="173.5" y2="1719.42" class="tk"/>
<text x="173.5" y="1749.5" text-anchor="middle" font-size="33.3" font-family="'Liberation Serif', 'Times New Roman', serif" font-weight="bold">0.0</text>
<line x1="223.4" y1="1709.7" x2="223.4" y2="1719.42" class="tk"/>
<text x="223.4" y="1749.5" text-anchor="middle" font-size="33.3" font-family="'Liberation Serif', 'Times New Roman', serif" font-weight="bold">2.5</text>
<rect x="83.8" y="972.5" width="184.2" height="737.2" class="sp"/>
<line x1="350.93" y1="1665.61" x2="360.65" y2="1665.61" class="tk"/>
<text x="342.23" y="1676.31" text-anchor="end" font-size="33.3" font-family="'Liberation Serif', 'Times New Roman', serif" font-weight="bold">−4</text>
<line x1="350.93" y1="1507.03" x2="360.65" y2="1507.03" class="tk"/>
<text x="342.23" y="1517.73" text-anchor="end" font-size="33.3" font-family="'Liberation Serif', 'Times New Roman', serif" font-weight="bold">−2</text>
<line x1="350.93" y1="1348.45" x2="360.65" y2="1348.45" class="tk"/>
<text x="342.23" y="1359.15" text-anchor="end" font-size="33.3" font-family="'Liberation Serif', 'Times New Roman', serif" font-weight="bold">0</text>
<line x1="350.93" y1="1189.87" x2="360.65" y2="1189.87" class="tk"/>
<text x="342.23" y="1200.57" text-anchor="end" font-size="33.3" font-family="'Liberation Serif', 'Times New Roman', serif" font-weight="bold">2</text>
<line x1="350.93" y1="1031.29" x2="360.65" y2="1031.29" class="tk"/>
<text x="342.23" y="1041.99" text-anchor="end" font-size="33.3" font-family="'Liberation Serif', 'Times New Roman', serif" font-weight="bold">4</text>
<line x1="452.75" y1="1709.7" x2="452.75" y2="1719.42" class="tk"/>
<text x="452.75" y="1749.5" text-anchor="middle" font-size="33.3" font-family="'Liberation Serif', 'Times New Roman', serif" font-weight="bold">1</text>
<line x1="452.75" y1="1273.2" x2="452.75" y2="1114.5" class="bx"/>
<line x1="452.75" y1="1379.9" x2="452.75" y2="1540.5" class="bx"/>
<line x1="445.84" y1="1114.5" x2="459.66" y2="1114.5" class="bx"/>
<line x1="445.84" y1="1540.5" x2="459.66" y2="1540.5" class="bx"/>
<rect x="438.94" y="1273.2" width="27.63" height="106.7" class="bxr"/>
<line x1="438.94" y1="1326.2" x2="466.56" y2="1326.2" class="md"/>
<rect x="443.95" y="1035.2" width="17.6" height="86.2" rx="8.8" fill="#000"/>
<rect x="443.95" y="1533.3" width="17.6" height="107.5" rx="8.8" fill="#000"/>
<circle cx="452.75" cy="1004.7" r="7.3" class="fl"/>
<circle cx="452.75" cy="1010.8" r="7.3" class="fl"/>
<circle cx="452.75" cy="1021.6" r="7.3" class="fl"/>
<circle cx="452.75" cy="1038.5" r="7.3" class="fl"/>
<circle cx="452.75" cy="1636.5" r="7.3" class="fl"/>
<circle cx="452.75" cy="1640.5" r="7.3" class="fl"/>
<circle cx="452.75" cy="1653.2" r="7.3" class="fl"/>
<circle cx="452.75" cy="1676.9" r="7.3" class="fl"/>
<rect x="360.65" y="972.5" width="184.2" height="737.2" class="sp"/>
<line x1="627.78" y1="1665.61" x2="637.5" y2="1665.61" class="tk"/>
<text x="619.08" y="1676.31" text-anchor="end" font-size="33.3" font-family="'Liberation Serif', 'Times New Roman', serif" font-weight="bold">−4</text>
<line x1="627.78" y1="1507.03" x2="637.5" y2="1507.03" class="tk"/>
<text x="619.08" y="1517.73" text-anchor="end" font-size="33.3" font-family="'Liberation Serif', 'Times New Roman', serif" font-weight="bold">−2</text>
<line x1="627.78" y1="1348.45" x2="637.5" y2="1348.45" class="tk"/>
<text x="619.08" y="1359.15" text-anchor="end" font-size="33.3" font-family="'Liberation Serif', 'Times New Roman', serif" font-weight="bold">0</text>
<line x1="627.78" y1="1189.87" x2="637.5" y2="1189.87" class="tk"/>
<text x="619.08" y="1200.57" text-anchor="end" font-size="33.3" font-family="'Liberation Serif', 'Times New Roman', serif" font-weight="bold">2</text>
<line x1="627.78" y1="1031.29" x2="637.5" y2="1031.29" class="tk"/>
<text x="619.08" y="1041.99" text-anchor="end" font-size="33.3" font-family="'Liberation Serif', 'Times New Roman', serif" font-weight="bold">4</text>
<line x1="645.87" y1="1709.7" x2="645.87" y2="1719.42" class="tk"/>
<text x="645.87" y="1749.5" text-anchor="middle" font-size="33.3" font-family="'Liberation Serif', 'Times New Roman', serif" font-weight="bold">0.75</text>
<line x1="729.6" y1="1709.7" x2="729.6" y2="1719.42" class="tk"/>
<text x="729.6" y="1749.5" text-anchor="middle" font-size="33.3" font-family="'Liberation Serif', 'Times New Roman', serif" font-weight="bold">1.00</text>
<line x1="813.33" y1="1709.7" x2="813.33" y2="1719.42" class="tk"/>
<text x="813.33" y="1749.5" text-anchor="middle" font-size="33.3" font-family="'Liberation Serif', 'Times New Roman', serif" font-weight="bold">1.25</text>
<path d="M729.57,1005.70 L729.57,1007.38 L729.57,1009.06 L729.56,1010.74 L729.56,1012.42 L729.56,1014.11 L729.55,1015.79 L729.55,1017.47 L729.54,1019.15 L729.54,1020.83 L729.53,1022.51 L729.53,1024.19 L729.52,1025.87 L729.52,1027.56 L729.51,1029.24 L729.50,1030.92 L729.50,1032.60 L729.49,1034.28 L729.48,1035.96 L729.47,1037.64 L729.46,1039.32 L729.45,1041.01 L729.44,1042.69 L729.42,1044.37 L729.41,1046.05 L729.40,1047.73 L729.38,1049.41 L729.36,1051.09 L729.35,1052.77 L729.33,1054.45 L729.31,1056.14 L729.29,1057.82 L729.26,1059.50 L729.24,1061.18 L729.21,1062.86 L729.19,1064.54 L729.16,1066.22 L729.13,1067.90 L729.10,1069.59 L729.06,1071.27 L729.02,1072.95 L728.98,1074.63 L728.94,1076.31 L728.90,1077.99 L728.85,1079.67 L728.80,1081.35 L728.75,1083.04 L728.70,1084.72 L728.64,1086.40 L728.58,1088.08 L728.51,1089.76 L728.44,1091.44 L728.37,1093.12 L728.29,1094.80 L728.21,1096.48 L728.13,1098.17 L728.04,1099.85 L727.94,1101.53 L727.84,1103.21 L727.74,1104.89 L727.63,1106.57 L727.51,1108.25 L727.39,1109.93 L727.26,1111.62 L727.13,1113.30 L726.99,1114.98 L726.84,1116.66 L726.69,1118.34 L726.53,1120.02 L726.36,1121.70 L726.18,1123.38 L726.00,1125.07 L725.80,1126.75 L725.60,1128.43 L725.39,1130.11 L725.17,1131.79 L724.94,1133.47 L724.71,1135.15 L724.46,1136.83 L724.20,1138.52 L723.93,1140.20 L723.65,1141.88 L723.36,1143.56 L723.06,1145.24 L722.74,1146.92 L722.41,1148.60 L722.08,1150.28 L721.73,1151.96 L721.36,1153.65 L720.98,1155.33 L720.59,1157.01 L720.19,1158.69 L719.77,1160.37 L719.34,1162.05 L718.90,1163.73 L718.44,1165.41 L717.96,1167.10 L717.47,1168.78 L716.96,1170.46 L716.44,1172.14 L715.91,1173.82 L715.36,1175.50 L714.79,1177.18 L714.21,1178.86 L713.61,1180.55 L712.99,1182.23 L712.36,1183.91 L711.71,1185.59 L711.05,1187.27 L710.37,1188.95 L709.67,1190.63 L708.96,1192.31 L708.23,1193.99 L707.49,1195.68 L706.73,1197.36 L705.95,1199.04 L705.16,1200.72 L704.35,1202.40 L703.52,1204.08 L702.69,1205.76 L701.83,1207.44 L700.97,1209.13 L700.08,1210.81 L699.19,1212.49 L698.28,1214.17 L697.36,1215.85 L696.42,1217.53 L695.47,1219.21 L694.51,1220.89 L693.54,1222.58 L692.56,1224.26 L691.57,1225.94 L690.57,1227.62 L689.56,1229.30 L688.54,1230.98 L687.52,1232.66 L686.49,1234.34 L685.45,1236.02 L684.40,1237.71 L683.36,1239.39 L682.30,1241.07 L681.25,1242.75 L680.19,1244.43 L679.14,1246.11 L678.08,1247.79 L677.02,1249.47 L675.97,1251.16 L674.91,1252.84 L673.87,1254.52 L672.82,1256.20 L671.78,1257.88 L670.75,1259.56 L669.73,1261.24 L668.71,1262.92 L667.71,1264.61 L666.71,1266.29 L665.73,1267.97 L664.76,1269.65 L663.80,1271.33 L662.86,1273.01 L661.94,1274.69 L661.03,1276.37 L660.14,1278.05 L659.27,1279.74 L658.42,1281.42 L657.59,1283.10 L656.78,1284.78 L656.00,1286.46 L655.24,1288.14 L654.50,1289.82 L653.79,1291.50 L653.11,1293.19 L652.46,1294.87 L651.83,1296.55 L651.23,1298.23 L650.66,1299.91 L650.13,1301.59 L649.62,1303.27 L649.15,1304.95 L648.70,1306.64 L648.30,1308.32 L647.92,1310.00 L647.58,1311.68 L647.27,1313.36 L647.00,1315.04 L646.76,1316.72 L646.56,1318.40 L646.40,1320.08 L646.27,1321.77 L646.18,1323.45 L646.12,1325.13 L646.10,1326.81 L646.12,1328.49 L646.17,1330.17 L646.26,1331.85 L646.38,1333.53 L646.54,1335.22 L646.73,1336.90 L646.96,1338.58 L647.22,1340.26 L647.52,1341.94 L647.85,1343.62 L648.22,1345.30 L648.62,1346.98 L649.05,1348.67 L649.51,1350.35 L650.00,1352.03 L650.53,1353.71 L651.08,1355.39 L651.67,1357.07 L652.28,1358.75 L652.93,1360.43 L653.59,1362.12 L654.29,1363.80 L655.01,1365.48 L655.76,1367.16 L656.53,1368.84 L657.32,1370.52 L658.13,1372.20 L658.97,1373.88 L659.83,1375.56 L660.70,1377.25 L661.60,1378.93 L662.51,1380.61 L663.43,1382.29 L664.37,1383.97 L665.33,1385.65 L666.30,1387.33 L667.28,1389.01 L668.27,1390.70 L669.28,1392.38 L670.29,1394.06 L671.31,1395.74 L672.33,1397.42 L673.37,1399.10 L674.40,1400.78 L675.45,1402.46 L676.49,1404.15 L677.54,1405.83 L678.59,1407.51 L679.63,1409.19 L680.68,1410.87 L681.73,1412.55 L682.77,1414.23 L683.81,1415.91 L684.85,1417.59 L685.88,1419.28 L686.91,1420.96 L687.93,1422.64 L688.94,1424.32 L689.95,1426.00 L690.95,1427.68 L691.94,1429.36 L692.92,1431.04 L693.88,1432.73 L694.84,1434.41 L695.79,1436.09 L696.73,1437.77 L697.65,1439.45 L698.56,1441.13 L699.46,1442.81 L700.34,1444.49 L701.21,1446.18 L702.07,1447.86 L702.91,1449.54 L703.74,1451.22 L704.55,1452.90 L705.35,1454.58 L706.13,1456.26 L706.89,1457.94 L707.65,1459.62 L708.38,1461.31 L709.10,1462.99 L709.80,1464.67 L710.49,1466.35 L711.16,1468.03 L711.82,1469.71 L712.46,1471.39 L713.08,1473.07 L713.69,1474.76 L714.28,1476.44 L714.86,1478.12 L715.42,1479.80 L715.96,1481.48 L716.49,1483.16 L717.01,1484.84 L717.51,1486.52 L717.99,1488.21 L718.46,1489.89 L718.92,1491.57 L719.36,1493.25 L719.79,1494.93 L720.20,1496.61 L720.60,1498.29 L720.99,1499.97 L721.36,1501.65 L721.72,1503.34 L722.07,1505.02 L722.41,1506.70 L722.73,1508.38 L723.04,1510.06 L723.34,1511.74 L723.63,1513.42 L723.91,1515.10 L724.18,1516.79 L724.43,1518.47 L724.68,1520.15 L724.92,1521.83 L725.15,1523.51 L725.37,1525.19 L725.58,1526.87 L725.78,1528.55 L725.97,1530.24 L726.15,1531.92 L726.33,1533.60 L726.50,1535.28 L726.66,1536.96 L726.81,1538.64 L726.96,1540.32 L727.10,1542.00 L727.23,1543.68 L727.36,1545.37 L727.48,1547.05 L727.60,1548.73 L727.71,1550.41 L727.82,1552.09 L727.92,1553.77 L728.01,1555.45 L728.10,1557.13 L728.19,1558.82 L728.27,1560.50 L728.35,1562.18 L728.42,1563.86 L728.49,1565.54 L728.55,1567.22 L728.62,1568.90 L728.68,1570.58 L728.73,1572.27 L728.78,1573.95 L728.83,1575.63 L728.88,1577.31 L728.93,1578.99 L728.97,1580.67 L729.01,1582.35 L729.05,1584.03 L729.08,1585.72 L729.11,1587.40 L729.15,1589.08 L729.17,1590.76 L729.20,1592.44 L729.23,1594.12 L729.25,1595.80 L729.28,1597.48 L729.30,1599.16 L729.32,1600.85 L729.34,1602.53 L729.36,1604.21 L729.37,1605.89 L729.39,1607.57 L729.40,1609.25 L729.42,1610.93 L729.43,1612.61 L729.44,1614.30 L729.45,1615.98 L729.46,1617.66 L729.47,1619.34 L729.48,1621.02 L729.49,1622.70 L729.50,1624.38 L729.51,1626.06 L729.51,1627.75 L729.52,1629.43 L729.53,1631.11 L729.53,1632.79 L729.54,1634.47 L729.54,1636.15 L729.55,1637.83 L729.55,1639.51 L729.55,1641.19 L729.56,1642.88 L729.56,1644.56 L729.56,1646.24 L729.57,1647.92 L729.57,1649.60 L729.57,1651.28 L729.57,1652.96 L729.58,1654.64 L729.58,1656.33 L729.58,1658.01 L729.58,1659.69 L729.58,1661.37 L729.58,1663.05 L729.59,1664.73 L729.59,1666.41 L729.59,1668.09 L729.59,1669.78 L729.59,1671.46 L729.59,1673.14 L729.59,1674.82 L729.59,1676.50 L729.61,1676.50 L729.61,1674.82 L729.61,1673.14 L729.61,1671.46 L729.61,1669.78 L729.61,1668.09 L729.61,1666.41 L729.61,1664.73 L729.62,1663.05 L729.62,1661.37 L729.62,1659.69 L729.62,1658.01 L729.62,1656.33 L729.62,1654.64 L729.63,1652.96 L729.63,1651.28 L729.63,1649.60 L729.63,1647.92 L729.64,1646.24 L729.64,1644.56 L729.64,1642.88 L729.65,1641.19 L729.65,1639.51 L729.65,1637.83 L729.66,1636.15 L729.66,1634.47 L729.67,1632.79 L729.67,1631.11 L729.68,1629.43 L729.69,1627.75 L729.69,1626.06 L729.70,1624.38 L729.71,1622.70 L729.72,1621.02 L729.73,1619.34 L729.74,1617.66 L729.75,1615.98 L729.76,1614.30 L729.77,1612.61 L729.78,1610.93 L729.80,1609.25 L729.81,1607.57 L729.83,1605.89 L729.84,1604.21 L729.86,1602.53 L729.88,1600.85 L729.90,1599.16 L729.92,1597.48 L729.95,1595.80 L729.97,1594.12 L730.00,1592.44 L730.03,1590.76 L730.05,1589.08 L730.09,1587.40 L730.12,1585.72 L730.15,1584.03 L730.19,1582.35 L730.23,1580.67 L730.27,1578.99 L730.32,1577.31 L730.37,1575.63 L730.42,1573.95 L730.47,1572.27 L730.52,1570.58 L730.58,1568.90 L730.65,1567.22 L730.71,1565.54 L730.78,1563.86 L730.85,1562.18 L730.93,1560.50 L731.01,1558.82 L731.10,1557.13 L731.19,1555.45 L731.28,1553.77 L731.38,1552.09 L731.49,1550.41 L731.60,1548.73 L731.72,1547.05 L731.84,1545.37 L731.97,1543.68 L732.10,1542.00 L732.24,1540.32 L732.39,1538.64 L732.54,1536.96 L732.70,1535.28 L732.87,1533.60 L733.05,1531.92 L733.23,1530.24 L733.42,1528.55 L733.62,1526.87 L733.83,1525.19 L734.05,1523.51 L734.28,1521.83 L734.52,1520.15 L734.77,1518.47 L735.02,1516.79 L735.29,1515.10 L735.57,1513.42 L735.86,1511.74 L736.16,1510.06 L736.47,1508.38 L736.79,1506.70 L737.13,1505.02 L737.48,1503.34 L737.84,1501.65 L738.21,1499.97 L738.60,1498.29 L739.00,1496.61 L739.41,1494.93 L739.84,1493.25 L740.28,1491.57 L740.74,1489.89 L741.21,1488.21 L741.69,1486.52 L742.19,1484.84 L742.71,1483.16 L743.24,1481.48 L743.78,1479.80 L744.34,1478.12 L744.92,1476.44 L745.51,1474.76 L746.12,1473.07 L746.74,1471.39 L747.38,1469.71 L748.04,1468.03 L748.71,1466.35 L749.40,1464.67 L750.10,1462.99 L750.82,1461.31 L751.55,1459.62 L752.31,1457.94 L753.07,1456.26 L753.85,1454.58 L754.65,1452.90 L755.46,1451.22 L756.29,1449.54 L757.13,1447.86 L757.99,1446.18 L758.86,1444.49 L759.74,1442.81 L760.64,1441.13 L761.55,1439.45 L762.47,1437.77 L763.41,1436.09 L764.36,1434.41 L765.32,1432.73 L766.28,1431.04 L767.26,1429.36 L768.25,1427.68 L769.25,1426.00 L770.26,1424.32 L771.27,1422.64 L772.29,1420.96 L773.32,1419.28 L774.35,1417.59 L775.39,1415.91 L776.43,1414.23 L777.47,1412.55 L778.52,1410.87 L779.57,1409.19 L780.61,1407.51 L781.66,1405.83 L782.71,1404.15 L783.75,1402.46 L784.80,1400.78 L785.83,1399.10 L786.87,1397.42 L787.89,1395.74 L788.91,1394.06 L789.92,1392.38 L790.93,1390.70 L791.92,1389.01 L792.90,1387.33 L793.87,1385.65 L794.83,1383.97 L795.77,1382.29 L796.69,1380.61 L797.60,1378.93 L798.50,1377.25 L799.37,1375.56 L800.23,1373.88 L801.07,1372.20 L801.88,1370.52 L802.67,1368.84 L803.44,1367.16 L804.19,1365.48 L804.91,1363.80 L805.61,1362.12 L806.27,1360.43 L806.92,1358.75 L807.53,1357.07 L808.12,1355.39 L808.67,1353.71 L809.20,1352.03 L809.69,1350.35 L810.15,1348.67 L810.58,1346.98 L810.98,1345.30 L811.35,1343.62 L811.68,1341.94 L811.98,1340.26 L812.24,1338.58 L812.47,1336.90 L812.66,1335.22 L812.82,1333.53 L812.94,1331.85 L813.03,1330.17 L813.08,1328.49 L813.10,1326.81 L813.08,1325.13 L813.02,1323.45 L812.93,1321.77 L812.80,1320.08 L812.64,1318.40 L812.44,1316.72 L812.20,1315.04 L811.93,1313.36 L811.62,1311.68 L811.28,1310.00 L810.90,1308.32 L810.50,1306.64 L810.05,1304.95 L809.58,1303.27 L809.07,1301.59 L808.54,1299.91 L807.97,1298.23 L807.37,1296.55 L806.74,1294.87 L806.09,1293.19 L805.41,1291.50 L804.70,1289.82 L803.96,1288.14 L803.20,1286.46 L802.42,1284.78 L801.61,1283.10 L800.78,1281.42 L799.93,1279.74 L799.06,1278.05 L798.17,1276.37 L797.26,1274.69 L796.34,1273.01 L795.40,1271.33 L794.44,1269.65 L793.47,1267.97 L792.49,1266.29 L791.49,1264.61 L790.49,1262.92 L789.47,1261.24 L788.45,1259.56 L787.42,1257.88 L786.38,1256.20 L785.33,1254.52 L784.29,1252.84 L783.23,1251.16 L782.18,1249.47 L781.12,1247.79 L780.06,1246.11 L779.01,1244.43 L777.95,1242.75 L776.90,1241.07 L775.84,1239.39 L774.80,1237.71 L773.75,1236.02 L772.71,1234.34 L771.68,1232.66 L770.66,1230.98 L769.64,1229.30 L768.63,1227.62 L767.63,1225.94 L766.64,1224.26 L765.66,1222.58 L764.69,1220.89 L763.73,1219.21 L762.78,1217.53 L761.84,1215.85 L760.92,1214.17 L760.01,1212.49 L759.12,1210.81 L758.23,1209.13 L757.37,1207.44 L756.51,1205.76 L755.68,1204.08 L754.85,1202.40 L754.04,1200.72 L753.25,1199.04 L752.47,1197.36 L751.71,1195.68 L750.97,1193.99 L750.24,1192.31 L749.53,1190.63 L748.83,1188.95 L748.15,1187.27 L747.49,1185.59 L746.84,1183.91 L746.21,1182.23 L745.59,1180.55 L744.99,1178.86 L744.41,1177.18 L743.84,1175.50 L743.29,1173.82 L742.76,1172.14 L742.24,1170.46 L741.73,1168.78 L741.24,1167.10 L740.76,1165.41 L740.30,1163.73 L739.86,1162.05 L739.43,1160.37 L739.01,1158.69 L738.61,1157.01 L738.22,1155.33 L737.84,1153.65 L737.47,1151.96 L737.12,1150.28 L736.79,1148.60 L736.46,1146.92 L736.14,1145.24 L735.84,1143.56 L735.55,1141.88 L735.27,1140.20 L735.00,1138.52 L734.74,1136.83 L734.49,1135.15 L734.26,1133.47 L734.03,1131.79 L733.81,1130.11 L733.60,1128.43 L733.40,1126.75 L733.20,1125.07 L733.02,1123.38 L732.84,1121.70 L732.67,1120.02 L732.51,1118.34 L732.36,1116.66 L732.21,1114.98 L732.07,1113.30 L731.94,1111.62 L731.81,1109.93 L731.69,1108.25 L731.57,1106.57 L731.46,1104.89 L731.36,1103.21 L731.26,1101.53 L731.16,1099.85 L731.07,1098.17 L730.99,1096.48 L730.91,1094.80 L730.83,1093.12 L730.76,1091.44 L730.69,1089.76 L730.62,1088.08 L730.56,1086.40 L730.50,1084.72 L730.45,1083.04 L730.40,1081.35 L730.35,1079.67 L730.30,1077.99 L730.26,1076.31 L730.22,1074.63 L730.18,1072.95 L730.14,1071.27 L730.10,1069.59 L730.07,1067.90 L730.04,1066.22 L730.01,1064.54 L729.99,1062.86 L729.96,1061.18 L729.94,1059.50 L729.91,1057.82 L729.89,1056.14 L729.87,1054.45 L729.85,1052.77 L729.84,1051.09 L729.82,1049.41 L729.80,1047.73 L729.79,1046.05 L729.78,1044.37 L729.76,1042.69 L729.75,1041.01 L729.74,1039.32 L729.73,1037.64 L729.72,1035.96 L729.71,1034.28 L729.70,1032.60 L729.70,1030.92 L729.69,1029.24 L729.68,1027.56 L729.68,1025.87 L729.67,1024.19 L729.67,1022.51 L729.66,1020.83 L729.66,1019.15 L729.65,1017.47 L729.65,1015.79 L729.64,1014.11 L729.64,1012.42 L729.64,1010.74 L729.63,1009.06 L729.63,1007.38 L729.63,1005.70 Z" fill="#1f77b4" fill-opacity="0.3"/>
<line x1="729.6" y1="1005.7" x2="729.6" y2="1676.5" class="vl"/>
<line x1="687.74" y1="1005.7" x2="771.46" y2="1005.7" class="vl"/>
<line x1="687.74" y1="1676.5" x2="771.46" y2="1676.5" class="vl"/>
<rect x="637.5" y="972.5" width="184.2" height="737.2" class="sp"/>
<path d="M1015.37,1709.7 L1015.37,1700.8 L1032.12,1700.8 L1032.12,1599.2 L1048.86,1599.2 L1048.86,1380.7 L1065.61,1380.7 L1065.61,1142.1 L1082.35,1142.1 L1082.35,1007.2 L1099.1,1007.2 L1099.1,1018.6 L1115.85,1018.6 L1115.85,1172.3 L1132.59,1172.3 L1132.59,1426.1 L1149.34,1426.1 L1149.34,1636.6 L1166.08,1636.6 L1166.08,1707 L1182.83,1707 L1182.83,1709.7 Z" fill="#1f77b4"/>
<line x1="997.28" y1="1709.7" x2="1007" y2="1709.7" class="tk"/>
<text x="988.58" y="1720.4" text-anchor="end" font-size="33.3" font-family="'Liberation Serif', 'Times New Roman', serif" font-weight="bold">0.00</text>
<line x1="997.28" y1="1563.54" x2="1007" y2="1563.54" class="tk"/>
<text x="988.58" y="1574.24" text-anchor="end" font-size="33.3" font-family="'Liberation Serif', 'Times New Roman', serif" font-weight="bold">0.02</text>
<line x1="997.28" y1="1417.38" x2="1007" y2="1417.38" class="tk"/>
<text x="988.58" y="1428.08" text-anchor="end" font-size="33.3" font-family="'Liberation Serif', 'Times New Roman', serif" font-weight="bold">0.04</text>
<line x1="997.28" y1="1271.22" x2="1007" y2="1271.22" class="tk"/>
<text x="988.58" y="1281.92" text-anchor="end" font-size="33.3" font-family="'Liberation Serif', 'Times New Roman', serif" font-weight="bold">0.06</text>
<line x1="997.28" y1="1125.06" x2="1007" y2="1125.06" class="tk"/>
<text x="988.58" y="1135.76" text-anchor="end" font-size="33.3" font-family="'Liberation Serif', 'Times New Roman', serif" font-weight="bold">0.08</text>
<line x1="997.28" y1="978.9" x2="1007" y2="978.9" class="tk"/>
<text x="988.58" y="989.6" text-anchor="end" font-size="33.3" font-family="'Liberation Serif', 'Times New Roman', serif" font-weight="bold">0.10</text>
<line x1="1019.8" y1="1709.7" x2="1019.8" y2="1719.42" class="tk"/>
<text x="1019.8" y="1749.5" text-anchor="middle" font-size="33.3" font-family="'Liberation Serif', 'Times New Roman', serif" font-weight="bold">−10</text>
<line x1="1095.7" y1="1709.7" x2="1095.7" y2="1719.42" class="tk"/>
<text x="1095.7" y="1749.5" text-anchor="middle" font-size="33.3" font-family="'Liberation Serif', 'Times New Roman', serif" font-weight="bold">0</text>
<line x1="1171.6" y1="1709.7" x2="1171.6" y2="1719.42" class="tk"/>
<text x="1171.6" y="1749.5" text-anchor="middle" font-size="33.3" font-family="'Liberation Serif', 'Times New Roman', serif" font-weight="bold">10</text>
<rect x="1007" y="972.5" width="184.2" height="737.2" class="sp"/>
<line x1="1274.13" y1="1656.4" x2="1283.85" y2="1656.4" class="tk"/>
<text x="1265.43" y="1667.1" text-anchor="end" font-size="33.3" font-family="'Liberation Serif', 'Times New Roman', serif" font-weight="bold">−10</text>
<line x1="1274.13" y1="1503.88" x2="1283.85" y2="1503.88" class="tk"/>
<text x="1265.43" y="1514.58" text-anchor="end" font-size="33.3" font-family="'Liberation Serif', 'Times New Roman', serif" font-weight="bold">−5</text>
<line x1="1274.13" y1="1351.35" x2="1283.85" y2="1351.35" class="tk"/>
<text x="1265.43" y="1362.05" text-anchor="end" font-size="33.3" font-family="'Liberation Serif', 'Times New Roman', serif" font-weight="bold">0</text>
<line x1="1274.13" y1="1198.82" x2="1283.85" y2="1198.82" class="tk"/>
<text x="1265.43" y="1209.52" text-anchor="end" font-size="33.3" font-family="'Liberation Serif', 'Times New Roman', serif" font-weight="bold">5</text>
<line x1="1274.13" y1="1046.3" x2="1283.85" y2="1046.3" class="tk"/>
<text x="1265.43" y="1057" text-anchor="end" font-size="33.3" font-family="'Liberation Serif', 'Times New Roman', serif" font-weight="bold">10</text>
<line x1="1375.95" y1="1709.7" x2="1375.95" y2="1719.42" class="tk"/>
<text x="1375.95" y="1749.5" text-anchor="middle" font-size="33.3" font-family="'Liberation Serif', 'Times New Roman', serif" font-weight="bold">1</text>
<line x1="1375.95" y1="1266.6" x2="1375.95" y2="1025" class="bx"/>
<line x1="1375.95" y1="1427.8" x2="1375.95" y2="1668" class="bx"/>
<line x1="1369.04" y1="1025" x2="1382.86" y2="1025" class="bx"/>
<line x1="1369.04" y1="1668" x2="1382.86" y2="1668" class="bx"/>
<rect x="1362.13" y="1266.6" width="27.63" height="161.2" class="bxr"/>
<line x1="1362.13" y1="1347.2" x2="1389.76" y2="1347.2" class="md"/>
<circle cx="1375.95" cy="1006.3" r="7.3" class="fl"/>
<circle cx="1375.95" cy="1017.5" r="7.3" class="fl"/>
<circle cx="1375.95" cy="1021.5" r="7.3" class="fl"/>
<circle cx="1375.95" cy="1674.5" r="7.3" class="fl"/>
<circle cx="1375.95" cy="1676.5" r="7.3" class="fl"/>
<rect x="1283.85" y="972.5" width="184.2" height="737.2" class="sp"/>
<line x1="1550.98" y1="1656.4" x2="1560.7" y2="1656.4" class="tk"/>
<text x="1542.28" y="1667.1" text-anchor="end" font-size="33.3" font-family="'Liberation Serif', 'Times New Roman', serif" font-weight="bold">−10</text>
<line x1="1550.98" y1="1503.88" x2="1560.7" y2="1503.88" class="tk"/>
<text x="1542.28" y="1514.58" text-anchor="end" font-size="33.3" font-family="'Liberation Serif', 'Times New Roman', serif" font-weight="bold">−5</text>
<line x1="1550.98" y1="1351.35" x2="1560.7" y2="1351.35" class="tk"/>
<text x="1542.28" y="1362.05" text-anchor="end" font-size="33.3" font-family="'Liberation Serif', 'Times New Roman', serif" font-weight="bold">0</text>
<line x1="1550.98" y1="1198.82" x2="1560.7" y2="1198.82" class="tk"/>
<text x="1542.28" y="1209.52" text-anchor="end" font-size="33.3" font-family="'Liberation Serif', 'Times New Roman', serif" font-weight="bold">5</text>
<line x1="1550.98" y1="1046.3" x2="1560.7" y2="1046.3" class="tk"/>
<text x="1542.28" y="1057" text-anchor="end" font-size="33.3" font-family="'Liberation Serif', 'Times New Roman', serif" font-weight="bold">10</text>
<line x1="1569.07" y1="1709.7" x2="1569.07" y2="1719.42" class="tk"/>
<text x="1569.07" y="1749.5" text-anchor="middle" font-size="33.3" font-family="'Liberation Serif', 'Times New Roman', serif" font-weight="bold">0.75</text>
<line x1="1652.8" y1="1709.7" x2="1652.8" y2="1719.42" class="tk"/>
<text x="1652.8" y="1749.5" text-anchor="middle" font-size="33.3" font-family="'Liberation Serif', 'Times New Roman', serif" font-weight="bold">1.00</text>
<line x1="1736.53" y1="1709.7" x2="1736.53" y2="1719.42" class="tk"/>
<text x="1736.53" y="1749.5" text-anchor="middle" font-size="33.3" font-family="'Liberation Serif', 'Times New Roman', serif" font-weight="bold">1.25</text>
<path d="M1652.80,1005.70 L1652.80,1007.38 L1652.80,1009.06 L1652.80,1010.74 L1652.80,1012.42 L1652.80,1014.11 L1652.80,1015.79 L1652.80,1017.47 L1652.80,1019.15 L1652.80,1020.83 L1652.80,1022.51 L1652.80,1024.19 L1652.80,1025.87 L1652.80,1027.56 L1652.80,1029.24 L1652.80,1030.92 L1652.80,1032.60 L1652.79,1034.28 L1652.79,1035.96 L1652.79,1037.64 L1652.79,1039.32 L1652.79,1041.01 L1652.78,1042.69 L1652.78,1044.37 L1652.77,1046.05 L1652.77,1047.73 L1652.76,1049.41 L1652.75,1051.09 L1652.73,1052.77 L1652.72,1054.45 L1652.70,1056.14 L1652.67,1057.82 L1652.64,1059.50 L1652.59,1061.18 L1652.54,1062.86 L1652.48,1064.54 L1652.39,1066.22 L1652.29,1067.90 L1652.16,1069.59 L1652.00,1071.27 L1651.80,1072.95 L1651.55,1074.63 L1651.24,1076.31 L1650.85,1077.99 L1650.44,1079.67 L1650.02,1081.35 L1649.59,1083.04 L1649.15,1084.72 L1648.71,1086.40 L1648.25,1088.08 L1647.79,1089.76 L1647.32,1091.44 L1646.84,1093.12 L1646.35,1094.80 L1645.85,1096.48 L1645.35,1098.17 L1644.84,1099.85 L1644.32,1101.53 L1643.79,1103.21 L1643.26,1104.89 L1642.72,1106.57 L1642.17,1108.25 L1641.61,1109.93 L1641.05,1111.62 L1640.49,1113.30 L1639.91,1114.98 L1639.33,1116.66 L1638.75,1118.34 L1638.16,1120.02 L1637.56,1121.70 L1636.96,1123.38 L1636.35,1125.07 L1635.74,1126.75 L1635.12,1128.43 L1634.49,1130.11 L1633.87,1131.79 L1633.23,1133.47 L1632.60,1135.15 L1631.96,1136.83 L1631.31,1138.52 L1630.66,1140.20 L1630.01,1141.88 L1629.36,1143.56 L1628.70,1145.24 L1628.03,1146.92 L1627.37,1148.60 L1626.70,1150.28 L1626.03,1151.96 L1625.35,1153.65 L1624.67,1155.33 L1623.99,1157.01 L1623.31,1158.69 L1622.63,1160.37 L1621.94,1162.05 L1621.26,1163.73 L1620.57,1165.41 L1619.88,1167.10 L1619.18,1168.78 L1618.49,1170.46 L1617.80,1172.14 L1617.10,1173.82 L1616.40,1175.50 L1615.71,1177.18 L1615.01,1178.86 L1614.31,1180.55 L1613.62,1182.23 L1612.92,1183.91 L1612.22,1185.59 L1611.53,1187.27 L1610.83,1188.95 L1610.14,1190.63 L1609.44,1192.31 L1608.75,1193.99 L1608.06,1195.68 L1607.36,1197.36 L1606.67,1199.04 L1605.99,1200.72 L1605.30,1202.40 L1604.62,1204.08 L1603.93,1205.76 L1603.25,1207.44 L1602.58,1209.13 L1601.90,1210.81 L1601.23,1212.49 L1600.56,1214.17 L1599.89,1215.85 L1599.23,1217.53 L1598.57,1219.21 L1597.91,1220.89 L1597.26,1222.58 L1596.61,1224.26 L1595.96,1225.94 L1595.32,1227.62 L1594.68,1229.30 L1594.05,1230.98 L1593.42,1232.66 L1592.80,1234.34 L1592.18,1236.02 L1591.57,1237.71 L1590.96,1239.39 L1590.35,1241.07 L1589.76,1242.75 L1589.16,1244.43 L1588.58,1246.11 L1588.00,1247.79 L1587.42,1249.47 L1586.85,1251.16 L1586.29,1252.84 L1585.74,1254.52 L1585.19,1256.20 L1584.65,1257.88 L1584.11,1259.56 L1583.58,1261.24 L1583.06,1262.92 L1582.55,1264.61 L1582.04,1266.29 L1581.54,1267.97 L1581.05,1269.65 L1580.57,1271.33 L1580.10,1273.01 L1579.63,1274.69 L1579.18,1276.37 L1578.73,1278.05 L1578.29,1279.74 L1577.86,1281.42 L1577.44,1283.10 L1577.03,1284.78 L1576.62,1286.46 L1576.23,1288.14 L1575.85,1289.82 L1575.47,1291.50 L1575.11,1293.19 L1574.76,1294.87 L1574.42,1296.55 L1574.08,1298.23 L1573.76,1299.91 L1573.45,1301.59 L1573.15,1303.27 L1572.86,1304.95 L1572.59,1306.64 L1572.32,1308.32 L1572.07,1310.00 L1571.82,1311.68 L1571.59,1313.36 L1571.38,1315.04 L1571.17,1316.72 L1570.98,1318.40 L1570.79,1320.08 L1570.63,1321.77 L1570.47,1323.45 L1570.33,1325.13 L1570.20,1326.81 L1570.08,1328.49 L1569.98,1330.17 L1569.89,1331.85 L1569.81,1333.53 L1569.75,1335.22 L1569.70,1336.90 L1569.67,1338.58 L1569.65,1340.26 L1569.64,1341.94 L1569.64,1343.62 L1569.66,1345.30 L1569.69,1346.98 L1569.73,1348.67 L1569.79,1350.35 L1569.86,1352.03 L1569.94,1353.71 L1570.03,1355.39 L1570.13,1357.07 L1570.25,1358.75 L1570.38,1360.43 L1570.52,1362.12 L1570.67,1363.80 L1570.83,1365.48 L1571.01,1367.16 L1571.19,1368.84 L1571.39,1370.52 L1571.60,1372.20 L1571.81,1373.88 L1572.04,1375.56 L1572.28,1377.25 L1572.53,1378.93 L1572.79,1380.61 L1573.06,1382.29 L1573.34,1383.97 L1573.63,1385.65 L1573.93,1387.33 L1574.24,1389.01 L1574.56,1390.70 L1574.88,1392.38 L1575.22,1394.06 L1575.57,1395.74 L1575.92,1397.42 L1576.29,1399.10 L1576.66,1400.78 L1577.04,1402.46 L1577.43,1404.15 L1577.83,1405.83 L1578.24,1407.51 L1578.65,1409.19 L1579.08,1410.87 L1579.51,1412.55 L1579.95,1414.23 L1580.39,1415.91 L1580.85,1417.59 L1581.31,1419.28 L1581.78,1420.96 L1582.25,1422.64 L1582.73,1424.32 L1583.22,1426.00 L1583.72,1427.68 L1584.22,1429.36 L1584.73,1431.04 L1585.25,1432.73 L1585.77,1434.41 L1586.29,1436.09 L1586.83,1437.77 L1587.37,1439.45 L1587.91,1441.13 L1588.46,1442.81 L1589.02,1444.49 L1589.58,1446.18 L1590.15,1447.86 L1590.72,1449.54 L1591.30,1451.22 L1591.88,1452.90 L1592.47,1454.58 L1593.06,1456.26 L1593.65,1457.94 L1594.25,1459.62 L1594.86,1461.31 L1595.46,1462.99 L1596.08,1464.67 L1596.69,1466.35 L1597.31,1468.03 L1597.94,1469.71 L1598.56,1471.39 L1599.19,1473.07 L1599.82,1474.76 L1600.46,1476.44 L1601.10,1478.12 L1601.74,1479.80 L1602.39,1481.48 L1603.03,1483.16 L1603.68,1484.84 L1604.34,1486.52 L1604.99,1488.21 L1605.65,1489.89 L1606.30,1491.57 L1606.96,1493.25 L1607.63,1494.93 L1608.29,1496.61 L1608.95,1498.29 L1609.62,1499.97 L1610.29,1501.65 L1610.95,1503.34 L1611.62,1505.02 L1612.29,1506.70 L1612.96,1508.38 L1613.63,1510.06 L1614.31,1511.74 L1614.98,1513.42 L1615.65,1515.10 L1616.32,1516.79 L1616.99,1518.47 L1617.66,1520.15 L1618.34,1521.83 L1619.01,1523.51 L1619.68,1525.19 L1620.35,1526.87 L1621.02,1528.55 L1621.68,1530.24 L1622.35,1531.92 L1623.01,1533.60 L1623.68,1535.28 L1624.34,1536.96 L1625.00,1538.64 L1625.66,1540.32 L1626.32,1542.00 L1626.97,1543.68 L1627.63,1545.37 L1628.28,1547.05 L1628.93,1548.73 L1629.57,1550.41 L1630.22,1552.09 L1630.86,1553.77 L1631.49,1555.45 L1632.13,1557.13 L1632.76,1558.82 L1633.39,1560.50 L1634.01,1562.18 L1634.64,1563.86 L1635.25,1565.54 L1635.87,1567.22 L1636.48,1568.90 L1637.08,1570.58 L1637.69,1572.27 L1638.28,1573.95 L1638.88,1575.63 L1639.47,1577.31 L1640.05,1578.99 L1640.63,1580.67 L1641.20,1582.35 L1641.77,1584.03 L1642.34,1585.72 L1642.90,1587.40 L1643.45,1589.08 L1644.00,1590.76 L1644.54,1592.44 L1645.08,1594.12 L1645.61,1595.80 L1646.14,1597.48 L1646.65,1599.16 L1647.17,1600.85 L1647.67,1602.53 L1648.17,1604.21 L1648.67,1605.89 L1649.15,1607.57 L1649.63,1609.25 L1650.10,1610.93 L1650.57,1612.61 L1651.03,1614.30 L1651.47,1615.98 L1651.82,1617.66 L1652.08,1619.34 L1652.27,1621.02 L1652.41,1622.70 L1652.52,1624.38 L1652.59,1626.06 L1652.65,1627.75 L1652.69,1629.43 L1652.72,1631.11 L1652.74,1632.79 L1652.76,1634.47 L1652.77,1636.15 L1652.78,1637.83 L1652.78,1639.51 L1652.79,1641.19 L1652.79,1642.88 L1652.79,1644.56 L1652.79,1646.24 L1652.80,1647.92 L1652.80,1649.60 L1652.80,1651.28 L1652.80,1652.96 L1652.80,1654.64 L1652.80,1656.33 L1652.80,1658.01 L1652.80,1659.69 L1652.80,1661.37 L1652.80,1663.05 L1652.80,1664.73 L1652.80,1666.41 L1652.80,1668.09 L1652.80,1669.78 L1652.80,1671.46 L1652.80,1673.14 L1652.80,1674.82 L1652.80,1676.50 L1652.80,1676.50 L1652.80,1674.82 L1652.80,1673.14 L1652.80,1671.46 L1652.80,1669.78 L1652.80,1668.09 L1652.80,1666.41 L1652.80,1664.73 L1652.80,1663.05 L1652.80,1661.37 L1652.80,1659.69 L1652.80,1658.01 L1652.80,1656.33 L1652.80,1654.64 L1652.80,1652.96 L1652.80,1651.28 L1652.80,1649.60 L1652.80,1647.92 L1652.81,1646.24 L1652.81,1644.56 L1652.81,1642.88 L1652.81,1641.19 L1652.82,1639.51 L1652.82,1637.83 L1652.83,1636.15 L1652.84,1634.47 L1652.86,1632.79 L1652.88,1631.11 L1652.91,1629.43 L1652.95,1627.75 L1653.01,1626.06 L1653.08,1624.38 L1653.19,1622.70 L1653.33,1621.02 L1653.52,1619.34 L1653.78,1617.66 L1654.13,1615.98 L1654.57,1614.30 L1655.03,1612.61 L1655.50,1610.93 L1655.97,1609.25 L1656.45,1607.57 L1656.93,1605.89 L1657.43,1604.21 L1657.93,1602.53 L1658.43,1600.85 L1658.95,1599.16 L1659.46,1597.48 L1659.99,1595.80 L1660.52,1594.12 L1661.06,1592.44 L1661.60,1590.76 L1662.15,1589.08 L1662.70,1587.40 L1663.26,1585.72 L1663.83,1584.03 L1664.40,1582.35 L1664.97,1580.67 L1665.55,1578.99 L1666.13,1577.31 L1666.72,1575.63 L1667.32,1573.95 L1667.91,1572.27 L1668.52,1570.58 L1669.12,1568.90 L1669.73,1567.22 L1670.35,1565.54 L1670.96,1563.86 L1671.59,1562.18 L1672.21,1560.50 L1672.84,1558.82 L1673.47,1557.13 L1674.11,1555.45 L1674.74,1553.77 L1675.38,1552.09 L1676.03,1550.41 L1676.67,1548.73 L1677.32,1547.05 L1677.97,1545.37 L1678.63,1543.68 L1679.28,1542.00 L1679.94,1540.32 L1680.60,1538.64 L1681.26,1536.96 L1681.92,1535.28 L1682.59,1533.60 L1683.25,1531.92 L1683.92,1530.24 L1684.58,1528.55 L1685.25,1526.87 L1685.92,1525.19 L1686.59,1523.51 L1687.26,1521.83 L1687.94,1520.15 L1688.61,1518.47 L1689.28,1516.79 L1689.95,1515.10 L1690.62,1513.42 L1691.29,1511.74 L1691.97,1510.06 L1692.64,1508.38 L1693.31,1506.70 L1693.98,1505.02 L1694.65,1503.34 L1695.31,1501.65 L1695.98,1499.97 L1696.65,1498.29 L1697.31,1496.61 L1697.97,1494.93 L1698.64,1493.25 L1699.30,1491.57 L1699.95,1489.89 L1700.61,1488.21 L1701.26,1486.52 L1701.92,1484.84 L1702.57,1483.16 L1703.21,1481.48 L1703.86,1479.80 L1704.50,1478.12 L1705.14,1476.44 L1705.78,1474.76 L1706.41,1473.07 L1707.04,1471.39 L1707.66,1469.71 L1708.29,1468.03 L1708.91,1466.35 L1709.52,1464.67 L1710.14,1462.99 L1710.74,1461.31 L1711.35,1459.62 L1711.95,1457.94 L1712.54,1456.26 L1713.13,1454.58 L1713.72,1452.90 L1714.30,1451.22 L1714.88,1449.54 L1715.45,1447.86 L1716.02,1446.18 L1716.58,1444.49 L1717.14,1442.81 L1717.69,1441.13 L1718.23,1439.45 L1718.77,1437.77 L1719.31,1436.09 L1719.83,1434.41 L1720.35,1432.73 L1720.87,1431.04 L1721.38,1429.36 L1721.88,1427.68 L1722.38,1426.00 L1722.87,1424.32 L1723.35,1422.64 L1723.82,1420.96 L1724.29,1419.28 L1724.75,1417.59 L1725.21,1415.91 L1725.65,1414.23 L1726.09,1412.55 L1726.52,1410.87 L1726.95,1409.19 L1727.36,1407.51 L1727.77,1405.83 L1728.17,1404.15 L1728.56,1402.46 L1728.94,1400.78 L1729.31,1399.10 L1729.68,1397.42 L1730.03,1395.74 L1730.38,1394.06 L1730.72,1392.38 L1731.04,1390.70 L1731.36,1389.01 L1731.67,1387.33 L1731.97,1385.65 L1732.26,1383.97 L1732.54,1382.29 L1732.81,1380.61 L1733.07,1378.93 L1733.32,1377.25 L1733.56,1375.56 L1733.79,1373.88 L1734.00,1372.20 L1734.21,1370.52 L1734.41,1368.84 L1734.59,1367.16 L1734.77,1365.48 L1734.93,1363.80 L1735.08,1362.12 L1735.22,1360.43 L1735.35,1358.75 L1735.47,1357.07 L1735.57,1355.39 L1735.66,1353.71 L1735.74,1352.03 L1735.81,1350.35 L1735.87,1348.67 L1735.91,1346.98 L1735.94,1345.30 L1735.96,1343.62 L1735.96,1341.94 L1735.95,1340.26 L1735.93,1338.58 L1735.90,1336.90 L1735.85,1335.22 L1735.79,1333.53 L1735.71,1331.85 L1735.62,1330.17 L1735.52,1328.49 L1735.40,1326.81 L1735.27,1325.13 L1735.13,1323.45 L1734.97,1321.77 L1734.81,1320.08 L1734.62,1318.40 L1734.43,1316.72 L1734.22,1315.04 L1734.01,1313.36 L1733.78,1311.68 L1733.53,1310.00 L1733.28,1308.32 L1733.01,1306.64 L1732.74,1304.95 L1732.45,1303.27 L1732.15,1301.59 L1731.84,1299.91 L1731.52,1298.23 L1731.18,1296.55 L1730.84,1294.87 L1730.49,1293.19 L1730.13,1291.50 L1729.75,1289.82 L1729.37,1288.14 L1728.98,1286.46 L1728.57,1284.78 L1728.16,1283.10 L1727.74,1281.42 L1727.31,1279.74 L1726.87,1278.05 L1726.42,1276.37 L1725.97,1274.69 L1725.50,1273.01 L1725.03,1271.33 L1724.55,1269.65 L1724.06,1267.97 L1723.56,1266.29 L1723.05,1264.61 L1722.54,1262.92 L1722.02,1261.24 L1721.49,1259.56 L1720.95,1257.88 L1720.41,1256.20 L1719.86,1254.52 L1719.31,1252.84 L1718.75,1251.16 L1718.18,1249.47 L1717.60,1247.79 L1717.02,1246.11 L1716.44,1244.43 L1715.84,1242.75 L1715.25,1241.07 L1714.64,1239.39 L1714.03,1237.71 L1713.42,1236.02 L1712.80,1234.34 L1712.18,1232.66 L1711.55,1230.98 L1710.92,1229.30 L1710.28,1227.62 L1709.64,1225.94 L1708.99,1224.26 L1708.34,1222.58 L1707.69,1220.89 L1707.03,1219.21 L1706.37,1217.53 L1705.71,1215.85 L1705.04,1214.17 L1704.37,1212.49 L1703.70,1210.81 L1703.02,1209.13 L1702.35,1207.44 L1701.67,1205.76 L1700.98,1204.08 L1700.30,1202.40 L1699.61,1200.72 L1698.93,1199.04 L1698.24,1197.36 L1697.54,1195.68 L1696.85,1193.99 L1696.16,1192.31 L1695.46,1190.63 L1694.77,1188.95 L1694.07,1187.27 L1693.38,1185.59 L1692.68,1183.91 L1691.98,1182.23 L1691.29,1180.55 L1690.59,1178.86 L1689.89,1177.18 L1689.20,1175.50 L1688.50,1173.82 L1687.80,1172.14 L1687.11,1170.46 L1686.42,1168.78 L1685.72,1167.10 L1685.03,1165.41 L1684.34,1163.73 L1683.66,1162.05 L1682.97,1160.37 L1682.29,1158.69 L1681.61,1157.01 L1680.93,1155.33 L1680.25,1153.65 L1679.57,1151.96 L1678.90,1150.28 L1678.23,1148.60 L1677.57,1146.92 L1676.90,1145.24 L1676.24,1143.56 L1675.59,1141.88 L1674.94,1140.20 L1674.29,1138.52 L1673.64,1136.83 L1673.00,1135.15 L1672.37,1133.47 L1671.73,1131.79 L1671.11,1130.11 L1670.48,1128.43 L1669.86,1126.75 L1669.25,1125.07 L1668.64,1123.38 L1668.04,1121.70 L1667.44,1120.02 L1666.85,1118.34 L1666.27,1116.66 L1665.69,1114.98 L1665.11,1113.30 L1664.55,1111.62 L1663.99,1109.93 L1663.43,1108.25 L1662.88,1106.57 L1662.34,1104.89 L1661.81,1103.21 L1661.28,1101.53 L1660.76,1099.85 L1660.25,1098.17 L1659.75,1096.48 L1659.25,1094.80 L1658.76,1093.12 L1658.28,1091.44 L1657.81,1089.76 L1657.35,1088.08 L1656.89,1086.40 L1656.45,1084.72 L1656.01,1083.04 L1655.58,1081.35 L1655.16,1079.67 L1654.75,1077.99 L1654.36,1076.31 L1654.05,1074.63 L1653.80,1072.95 L1653.60,1071.27 L1653.44,1069.59 L1653.31,1067.90 L1653.21,1066.22 L1653.12,1064.54 L1653.06,1062.86 L1653.01,1061.18 L1652.96,1059.50 L1652.93,1057.82 L1652.90,1056.14 L1652.88,1054.45 L1652.87,1052.77 L1652.85,1051.09 L1652.84,1049.41 L1652.83,1047.73 L1652.83,1046.05 L1652.82,1044.37 L1652.82,1042.69 L1652.81,1041.01 L1652.81,1039.32 L1652.81,1037.64 L1652.81,1035.96 L1652.81,1034.28 L1652.80,1032.60 L1652.80,1030.92 L1652.80,1029.24 L1652.80,1027.56 L1652.80,1025.87 L1652.80,1024.19 L1652.80,1022.51 L1652.80,1020.83 L1652.80,1019.15 L1652.80,1017.47 L1652.80,1015.79 L1652.80,1014.11 L1652.80,1012.42 L1652.80,1010.74 L1652.80,1009.06 L1652.80,1007.38 L1652.80,1005.70 Z" fill="#1f77b4" fill-opacity="0.3"/>
<line x1="1652.8" y1="1005.7" x2="1652.8" y2="1676.5" class="vl"/>
<line x1="1610.94" y1="1005.7" x2="1694.66" y2="1005.7" class="vl"/>
<line x1="1610.94" y1="1676.5" x2="1694.66" y2="1676.5" class="vl"/>
<rect x="1560.7" y="972.5" width="184.2" height="737.2" class="sp"/>
<text x="11.3" y="41.6" text-anchor="start" font-size="33.8" font-family="'Liberation Sans', Arial, sans-serif" font-weight="bold">A</text>
<text x="938" y="41.6" text-anchor="start" font-size="33.8" font-family="'Liberation Sans', Arial, sans-serif" font-weight="bold">B</text>
<text x="11.3" y="932.5" text-anchor="start" font-size="33.8" font-family="'Liberation Sans', Arial, sans-serif" font-weight="bold">C</text>
<text x="938" y="932.5" text-anchor="start" font-size="33.8" font-family="'Liberation Sans', Arial, sans-serif" font-weight="bold">D</text>
</svg>
</body></html>
